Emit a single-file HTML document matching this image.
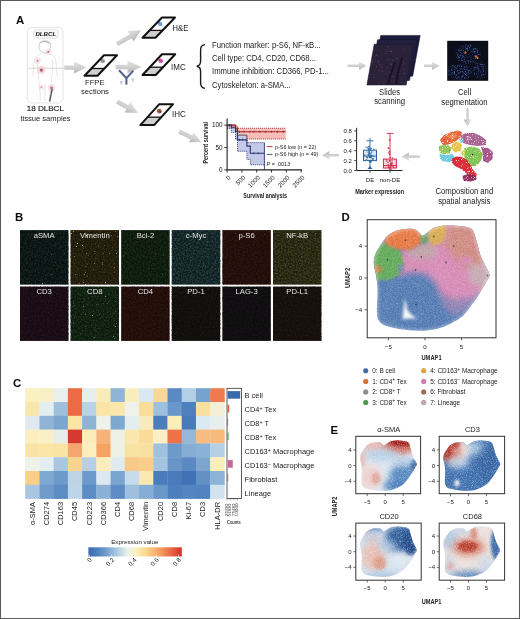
<!DOCTYPE html>
<html><head><meta charset="utf-8"><title>Figure</title>
<style>
html,body{margin:0;padding:0;background:#fff;}
body{width:520px;height:619px;overflow:hidden;}
svg{display:block;font-family:"Liberation Sans", sans-serif;will-change:transform;}
</style></head><body>
<svg width="520" height="619" viewBox="0 0 520 619">
<defs>
<linearGradient id="arrG" x1="0" y1="0" x2="0" y2="1">
 <stop offset="0" stop-color="#e2e2e2"/><stop offset="0.5" stop-color="#d0d0d0"/><stop offset="1" stop-color="#b4b4b4"/>
</linearGradient>
<linearGradient id="cbar" x1="0" y1="0" x2="1" y2="0">
 <stop offset="0" stop-color="#3a68ae"/>
 <stop offset="0.15" stop-color="#5f8fc6"/>
 <stop offset="0.3" stop-color="#a9c8e2"/>
 <stop offset="0.42" stop-color="#eaf2ee"/>
 <stop offset="0.5" stop-color="#fbf3c2"/>
 <stop offset="0.62" stop-color="#fbd58e"/>
 <stop offset="0.78" stop-color="#f39a5f"/>
 <stop offset="1" stop-color="#d7302a"/>
</linearGradient>
<filter id="dotBlur" x="-50%" y="-50%" width="200%" height="200%"><feGaussianBlur stdDeviation="0.45"/></filter><filter id="compNoise" x="0" y="0" width="1" height="1" filterUnits="objectBoundingBox" color-interpolation-filters="sRGB"><feTurbulence type="fractalNoise" baseFrequency="1.2" numOctaves="1" seed="21"/><feColorMatrix type="matrix" values="0 0 0 0 1 0 0 0 0 1 0 0 0 0 1 8 0 0 0 -4.8"/></filter><filter id="umapNoise" x="0" y="0" width="1" height="1" filterUnits="objectBoundingBox" color-interpolation-filters="sRGB"><feTurbulence type="fractalNoise" baseFrequency="1.4" numOctaves="2" seed="11"/><feColorMatrix type="matrix" values="0 0 0 0 1 0 0 0 0 1 0 0 0 0 1 1.5 0 0 0 -0.55"/></filter><filter id="umapNoiseE" x="0" y="0" width="1" height="1" filterUnits="objectBoundingBox" color-interpolation-filters="sRGB"><feTurbulence type="fractalNoise" baseFrequency="1.2" numOctaves="2" seed="5"/><feColorMatrix type="matrix" values="0 0 0 0 1 0 0 0 0 1 0 0 0 0 1 1.0 0 0 0 -0.45"/></filter><linearGradient id="abG" x1="0" y1="0" x2="1" y2="0"><stop offset="0" stop-color="#9aa6d0"/><stop offset="0.5" stop-color="#4e5680"/><stop offset="1" stop-color="#9aa6d0"/></linearGradient><clipPath id="stackClip"><polygon points="374.2,44.2 413.7,44.2 406.2,85 366.9,85"/></clipPath><filter id="segN" x="0" y="0" width="1" height="1" filterUnits="objectBoundingBox" color-interpolation-filters="sRGB"><feTurbulence type="fractalNoise" baseFrequency="0.7" numOctaves="2" seed="4"/><feColorMatrix type="matrix" values="0 0 0 0 0.25 0 0 0 0 0.38 0 0 0 0 0.72 3.2 0 0 0 -1.45"/></filter><radialGradient id="segM"><stop offset="0" stop-color="#fff"/><stop offset="0.7" stop-color="#fff"/><stop offset="1" stop-color="#000"/></radialGradient><mask id="segMask"><rect x="447.2" y="40.8" width="41" height="40" fill="#000"/><ellipse cx="468" cy="54" rx="14" ry="11" fill="url(#segM)"/><ellipse cx="460" cy="72" rx="14" ry="9" fill="url(#segM)"/><ellipse cx="480" cy="70" rx="8" ry="10" fill="url(#segM)" opacity="0.8"/></mask><filter id="tex0" x="0" y="0" width="1" height="1" filterUnits="objectBoundingBox" color-interpolation-filters="sRGB"><feTurbulence type="fractalNoise" baseFrequency="0.6" numOctaves="2" seed="3"/><feColorMatrix type="matrix" values="0 0 0 0 0.118 0 0 0 0 0.227 0 0 0 0 0.212 1.5 0 0 0 -0.55"/></filter><filter id="spk0" x="0" y="0" width="1" height="1" filterUnits="objectBoundingBox" color-interpolation-filters="sRGB"><feTurbulence type="fractalNoise" baseFrequency="0.9" numOctaves="1" seed="1"/><feColorMatrix type="matrix" values="0 0 0 0 0.502 0 0 0 0 0.816 0 0 0 0 0.753 12 0 0 0 -8.88"/></filter><filter id="tex1" x="0" y="0" width="1" height="1" filterUnits="objectBoundingBox" color-interpolation-filters="sRGB"><feTurbulence type="fractalNoise" baseFrequency="0.6" numOctaves="2" seed="10"/><feColorMatrix type="matrix" values="0 0 0 0 0.290 0 0 0 0 0.243 0 0 0 0 0.110 1.5 0 0 0 -0.55"/></filter><filter id="spk1" x="0" y="0" width="1" height="1" filterUnits="objectBoundingBox" color-interpolation-filters="sRGB"><feTurbulence type="fractalNoise" baseFrequency="0.9" numOctaves="1" seed="6"/><feColorMatrix type="matrix" values="0 0 0 0 0.941 0 0 0 0 0.816 0 0 0 0 0.376 12 0 0 0 -8.40"/></filter><filter id="tex2" x="0" y="0" width="1" height="1" filterUnits="objectBoundingBox" color-interpolation-filters="sRGB"><feTurbulence type="fractalNoise" baseFrequency="0.6" numOctaves="2" seed="17"/><feColorMatrix type="matrix" values="0 0 0 0 0.133 0 0 0 0 0.251 0 0 0 0 0.118 1.5 0 0 0 -0.55"/></filter><filter id="spk2" x="0" y="0" width="1" height="1" filterUnits="objectBoundingBox" color-interpolation-filters="sRGB"><feTurbulence type="fractalNoise" baseFrequency="0.9" numOctaves="1" seed="11"/><feColorMatrix type="matrix" values="0 0 0 0 0.314 0 0 0 0 0.565 0 0 0 0 0.290 12 0 0 0 -9.12"/></filter><filter id="tex3" x="0" y="0" width="1" height="1" filterUnits="objectBoundingBox" color-interpolation-filters="sRGB"><feTurbulence type="fractalNoise" baseFrequency="0.6" numOctaves="2" seed="24"/><feColorMatrix type="matrix" values="0 0 0 0 0.196 0 0 0 0 0.373 0 0 0 0 0.361 1.5 0 0 0 -0.55"/></filter><filter id="spk3" x="0" y="0" width="1" height="1" filterUnits="objectBoundingBox" color-interpolation-filters="sRGB"><feTurbulence type="fractalNoise" baseFrequency="0.9" numOctaves="1" seed="16"/><feColorMatrix type="matrix" values="0 0 0 0 0.353 0 0 0 0 0.659 0 0 0 0 0.659 12 0 0 0 -9.36"/></filter><filter id="tex4" x="0" y="0" width="1" height="1" filterUnits="objectBoundingBox" color-interpolation-filters="sRGB"><feTurbulence type="fractalNoise" baseFrequency="0.6" numOctaves="2" seed="31"/><feColorMatrix type="matrix" values="0 0 0 0 0.282 0 0 0 0 0.110 0 0 0 0 0.078 1.5 0 0 0 -0.55"/></filter><filter id="spk4" x="0" y="0" width="1" height="1" filterUnits="objectBoundingBox" color-interpolation-filters="sRGB"><feTurbulence type="fractalNoise" baseFrequency="0.9" numOctaves="1" seed="21"/><feColorMatrix type="matrix" values="0 0 0 0 0.596 0 0 0 0 0.220 0 0 0 0 0.157 12 0 0 0 -9.12"/></filter><filter id="tex5" x="0" y="0" width="1" height="1" filterUnits="objectBoundingBox" color-interpolation-filters="sRGB"><feTurbulence type="fractalNoise" baseFrequency="0.6" numOctaves="2" seed="38"/><feColorMatrix type="matrix" values="0 0 0 0 0.361 0 0 0 0 0.361 0 0 0 0 0.165 1.5 0 0 0 -0.55"/></filter><filter id="spk5" x="0" y="0" width="1" height="1" filterUnits="objectBoundingBox" color-interpolation-filters="sRGB"><feTurbulence type="fractalNoise" baseFrequency="0.9" numOctaves="1" seed="26"/><feColorMatrix type="matrix" values="0 0 0 0 0.627 0 0 0 0 0.627 0 0 0 0 0.282 12 0 0 0 -9.36"/></filter><filter id="tex6" x="0" y="0" width="1" height="1" filterUnits="objectBoundingBox" color-interpolation-filters="sRGB"><feTurbulence type="fractalNoise" baseFrequency="0.6" numOctaves="2" seed="45"/><feColorMatrix type="matrix" values="0 0 0 0 0.204 0 0 0 0 0.094 0 0 0 0 0.173 1.5 0 0 0 -0.55"/></filter><filter id="spk6" x="0" y="0" width="1" height="1" filterUnits="objectBoundingBox" color-interpolation-filters="sRGB"><feTurbulence type="fractalNoise" baseFrequency="0.9" numOctaves="1" seed="31"/><feColorMatrix type="matrix" values="0 0 0 0 0.478 0 0 0 0 0.227 0 0 0 0 0.439 12 0 0 0 -9.36"/></filter><filter id="tex7" x="0" y="0" width="1" height="1" filterUnits="objectBoundingBox" color-interpolation-filters="sRGB"><feTurbulence type="fractalNoise" baseFrequency="0.6" numOctaves="2" seed="52"/><feColorMatrix type="matrix" values="0 0 0 0 0.149 0 0 0 0 0.290 0 0 0 0 0.149 1.5 0 0 0 -0.55"/></filter><filter id="spk7" x="0" y="0" width="1" height="1" filterUnits="objectBoundingBox" color-interpolation-filters="sRGB"><feTurbulence type="fractalNoise" baseFrequency="0.9" numOctaves="1" seed="36"/><feColorMatrix type="matrix" values="0 0 0 0 0.376 0 0 0 0 0.690 0 0 0 0 0.376 12 0 0 0 -8.40"/></filter><filter id="tex8" x="0" y="0" width="1" height="1" filterUnits="objectBoundingBox" color-interpolation-filters="sRGB"><feTurbulence type="fractalNoise" baseFrequency="0.6" numOctaves="2" seed="59"/><feColorMatrix type="matrix" values="0 0 0 0 0.259 0 0 0 0 0.102 0 0 0 0 0.063 1.5 0 0 0 -0.55"/></filter><filter id="spk8" x="0" y="0" width="1" height="1" filterUnits="objectBoundingBox" color-interpolation-filters="sRGB"><feTurbulence type="fractalNoise" baseFrequency="0.9" numOctaves="1" seed="41"/><feColorMatrix type="matrix" values="0 0 0 0 0.478 0 0 0 0 0.188 0 0 0 0 0.125 12 0 0 0 -9.36"/></filter><filter id="tex9" x="0" y="0" width="1" height="1" filterUnits="objectBoundingBox" color-interpolation-filters="sRGB"><feTurbulence type="fractalNoise" baseFrequency="0.6" numOctaves="2" seed="66"/><feColorMatrix type="matrix" values="0 0 0 0 0.133 0 0 0 0 0.118 0 0 0 0 0.094 1.5 0 0 0 -0.55"/></filter><filter id="spk9" x="0" y="0" width="1" height="1" filterUnits="objectBoundingBox" color-interpolation-filters="sRGB"><feTurbulence type="fractalNoise" baseFrequency="0.9" numOctaves="1" seed="46"/><feColorMatrix type="matrix" values="0 0 0 0 0.251 0 0 0 0 0.227 0 0 0 0 0.180 12 0 0 0 -9.60"/></filter><filter id="tex10" x="0" y="0" width="1" height="1" filterUnits="objectBoundingBox" color-interpolation-filters="sRGB"><feTurbulence type="fractalNoise" baseFrequency="0.6" numOctaves="2" seed="73"/><feColorMatrix type="matrix" values="0 0 0 0 0.118 0 0 0 0 0.102 0 0 0 0 0.118 1.5 0 0 0 -0.55"/></filter><filter id="spk10" x="0" y="0" width="1" height="1" filterUnits="objectBoundingBox" color-interpolation-filters="sRGB"><feTurbulence type="fractalNoise" baseFrequency="0.9" numOctaves="1" seed="51"/><feColorMatrix type="matrix" values="0 0 0 0 0.235 0 0 0 0 0.204 0 0 0 0 0.235 12 0 0 0 -9.60"/></filter><filter id="tex11" x="0" y="0" width="1" height="1" filterUnits="objectBoundingBox" color-interpolation-filters="sRGB"><feTurbulence type="fractalNoise" baseFrequency="0.6" numOctaves="2" seed="80"/><feColorMatrix type="matrix" values="0 0 0 0 0.173 0 0 0 0 0.110 0 0 0 0 0.086 1.5 0 0 0 -0.55"/></filter><filter id="spk11" x="0" y="0" width="1" height="1" filterUnits="objectBoundingBox" color-interpolation-filters="sRGB"><feTurbulence type="fractalNoise" baseFrequency="0.9" numOctaves="1" seed="56"/><feColorMatrix type="matrix" values="0 0 0 0 0.298 0 0 0 0 0.180 0 0 0 0 0.133 12 0 0 0 -9.60"/></filter><clipPath id="clipD"><path d="M373.80 263.00 Q373.60 260.00 374.80 256.00 Q376.00 252.00 378.25 248.75 Q380.50 245.50 383.25 241.00 Q386.00 236.50 389.50 234.25 Q393.00 232.00 396.50 230.75 Q400.00 229.50 404.00 229.00 Q408.00 228.50 411.75 228.85 Q415.50 229.20 417.50 231.10 Q419.50 233.00 421.00 234.75 Q422.50 236.50 424.50 234.75 Q426.50 233.00 429.55 230.70 Q432.60 228.40 435.80 227.35 Q439.00 226.30 442.25 225.75 Q445.50 225.20 451.75 225.50 Q458.00 225.80 465.30 226.80 Q472.60 227.80 473.90 232.30 Q475.20 236.80 476.50 241.30 Q477.80 245.80 479.10 251.00 Q480.40 256.20 483.00 261.35 Q485.60 266.50 488.05 270.85 Q490.50 275.20 488.65 277.95 Q486.80 280.70 484.25 285.25 Q481.70 289.80 479.10 294.15 Q476.50 298.50 473.25 302.75 Q470.00 307.00 466.65 311.70 Q463.30 316.40 457.15 320.10 Q451.00 323.80 443.75 326.85 Q436.50 329.90 426.70 330.60 Q416.90 331.30 407.10 330.10 Q397.30 328.90 390.00 327.05 Q382.70 325.20 380.15 322.60 Q377.60 320.00 377.10 315.00 Q376.60 310.00 377.20 302.20 Q377.80 294.40 377.50 288.20 Q377.20 282.00 376.35 277.00 Q375.50 272.00 374.75 269.00 Q374.00 266.00 373.80 263.00 Z"/></clipPath><filter id="blurD" x="-40%" y="-40%" width="180%" height="180%"><feGaussianBlur stdDeviation="3.2"/></filter><filter id="blurD2" x="-30%" y="-30%" width="160%" height="160%"><feGaussianBlur stdDeviation="1.6"/></filter><filter id="bE" x="-50%" y="-50%" width="200%" height="200%"><feGaussianBlur stdDeviation="3"/></filter><filter id="bE2" x="-50%" y="-50%" width="200%" height="200%"><feGaussianBlur stdDeviation="1.6"/></filter><clipPath id="clipE0"><path d="M360.02 458.43 Q359.92 457.00 360.51 455.08 Q361.10 453.17 362.21 451.62 Q363.31 450.07 364.67 447.91 Q366.02 445.76 367.74 444.69 Q369.46 443.61 371.18 443.02 Q372.90 442.42 374.87 442.18 Q376.84 441.94 378.68 442.11 Q380.53 442.27 381.51 443.18 Q382.50 444.09 383.23 444.93 Q383.97 445.76 384.95 444.93 Q385.94 444.09 387.44 442.99 Q388.94 441.89 390.51 441.39 Q392.09 440.89 393.68 440.63 Q395.28 440.36 398.36 440.51 Q401.43 440.65 405.02 441.13 Q408.61 441.61 409.25 443.76 Q409.89 445.91 410.53 448.06 Q411.17 450.21 411.81 452.69 Q412.45 455.18 413.72 457.64 Q415.00 460.10 416.21 462.18 Q417.41 464.26 416.50 465.58 Q415.59 466.89 414.34 469.07 Q413.09 471.24 411.81 473.32 Q410.53 475.40 408.93 477.43 Q407.33 479.46 405.68 481.71 Q404.04 483.95 401.01 485.72 Q397.99 487.49 394.42 488.95 Q390.86 490.41 386.04 490.74 Q381.22 491.08 376.40 490.50 Q371.58 489.93 367.99 489.05 Q364.40 488.16 363.14 486.92 Q361.89 485.68 361.64 483.29 Q361.40 480.90 361.69 477.17 Q361.99 473.44 361.84 470.48 Q361.69 467.51 361.27 465.12 Q360.86 462.73 360.49 461.30 Q360.12 459.86 360.02 458.43 Z"/></clipPath><clipPath id="clipE1"><path d="M443.32 458.43 Q443.22 457.00 443.81 455.08 Q444.40 453.17 445.51 451.62 Q446.61 450.07 447.97 447.91 Q449.32 445.76 451.04 444.69 Q452.76 443.61 454.48 443.02 Q456.20 442.42 458.17 442.18 Q460.14 441.94 461.98 442.11 Q463.83 442.27 464.81 443.18 Q465.80 444.09 466.53 444.93 Q467.27 445.76 468.25 444.93 Q469.24 444.09 470.74 442.99 Q472.24 441.89 473.81 441.39 Q475.39 440.89 476.98 440.63 Q478.58 440.36 481.66 440.51 Q484.73 440.65 488.32 441.13 Q491.91 441.61 492.55 443.76 Q493.19 445.91 493.83 448.06 Q494.47 450.21 495.11 452.69 Q495.75 455.18 497.02 457.64 Q498.30 460.10 499.51 462.18 Q500.71 464.26 499.80 465.58 Q498.89 466.89 497.64 469.07 Q496.39 471.24 495.11 473.32 Q493.83 475.40 492.23 477.43 Q490.63 479.46 488.98 481.71 Q487.34 483.95 484.31 485.72 Q481.29 487.49 477.72 488.95 Q474.16 490.41 469.34 490.74 Q464.52 491.08 459.70 490.50 Q454.88 489.93 451.29 489.05 Q447.70 488.16 446.44 486.92 Q445.19 485.68 444.94 483.29 Q444.70 480.90 444.99 477.17 Q445.29 473.44 445.14 470.48 Q444.99 467.51 444.57 465.12 Q444.16 462.73 443.79 461.30 Q443.42 459.86 443.32 458.43 Z"/></clipPath><clipPath id="clipE2"><path d="M360.02 544.53 Q359.92 543.10 360.51 541.18 Q361.10 539.27 362.21 537.72 Q363.31 536.17 364.67 534.01 Q366.02 531.86 367.74 530.79 Q369.46 529.71 371.18 529.12 Q372.90 528.52 374.87 528.28 Q376.84 528.04 378.68 528.21 Q380.53 528.37 381.51 529.28 Q382.50 530.19 383.23 531.03 Q383.97 531.86 384.95 531.03 Q385.94 530.19 387.44 529.09 Q388.94 527.99 390.51 527.49 Q392.09 526.99 393.68 526.73 Q395.28 526.46 398.36 526.61 Q401.43 526.75 405.02 527.23 Q408.61 527.71 409.25 529.86 Q409.89 532.01 410.53 534.16 Q411.17 536.31 411.81 538.79 Q412.45 541.28 413.72 543.74 Q415.00 546.20 416.21 548.28 Q417.41 550.36 416.50 551.68 Q415.59 552.99 414.34 555.17 Q413.09 557.34 411.81 559.42 Q410.53 561.50 408.93 563.53 Q407.33 565.56 405.68 567.81 Q404.04 570.05 401.01 571.82 Q397.99 573.59 394.42 575.05 Q390.86 576.51 386.04 576.84 Q381.22 577.18 376.40 576.60 Q371.58 576.03 367.99 575.15 Q364.40 574.26 363.14 573.02 Q361.89 571.78 361.64 569.39 Q361.40 567.00 361.69 563.27 Q361.99 559.54 361.84 556.58 Q361.69 553.61 361.27 551.22 Q360.86 548.83 360.49 547.40 Q360.12 545.96 360.02 544.53 Z"/></clipPath><clipPath id="clipE3"><path d="M443.32 544.53 Q443.22 543.10 443.81 541.18 Q444.40 539.27 445.51 537.72 Q446.61 536.17 447.97 534.01 Q449.32 531.86 451.04 530.79 Q452.76 529.71 454.48 529.12 Q456.20 528.52 458.17 528.28 Q460.14 528.04 461.98 528.21 Q463.83 528.37 464.81 529.28 Q465.80 530.19 466.53 531.03 Q467.27 531.86 468.25 531.03 Q469.24 530.19 470.74 529.09 Q472.24 527.99 473.81 527.49 Q475.39 526.99 476.98 526.73 Q478.58 526.46 481.66 526.61 Q484.73 526.75 488.32 527.23 Q491.91 527.71 492.55 529.86 Q493.19 532.01 493.83 534.16 Q494.47 536.31 495.11 538.79 Q495.75 541.28 497.02 543.74 Q498.30 546.20 499.51 548.28 Q500.71 550.36 499.80 551.68 Q498.89 552.99 497.64 555.17 Q496.39 557.34 495.11 559.42 Q493.83 561.50 492.23 563.53 Q490.63 565.56 488.98 567.81 Q487.34 570.05 484.31 571.82 Q481.29 573.59 477.72 575.05 Q474.16 576.51 469.34 576.84 Q464.52 577.18 459.70 576.60 Q454.88 576.03 451.29 575.15 Q447.70 574.26 446.44 573.02 Q445.19 571.78 444.94 569.39 Q444.70 567.00 444.99 563.27 Q445.29 559.54 445.14 556.58 Q444.99 553.61 444.57 551.22 Q444.16 548.83 443.79 547.40 Q443.42 545.96 443.32 544.53 Z"/></clipPath></defs>
<rect x="0" y="0" width="520" height="619" fill="#fff"/>
<text x="15.9" y="23.7" font-size="11.4" fill="#0a0a0a" text-anchor="start" font-weight="bold" font-style="normal" >A</text>
<rect x="27.2" y="27.4" width="35.8" height="75.6" rx="4.5" fill="#fefefe" stroke="#dcdcdc" stroke-width="0.8"/>
<rect x="33.2" y="29.4" width="25.2" height="9" rx="3.5" fill="#f6f6f6" stroke="#d8d8d8" stroke-width="0.6"/>
<text x="45.8" y="36.2" font-size="6.1" fill="#1a1a1a" text-anchor="middle" font-weight="bold" font-style="italic" >DLBCL</text>
<g fill="none" stroke="#dadada" stroke-width="0.6"><path d="M39 46.5 Q39 40.8 44.5 40.8 Q50.5 40.8 50.5 46.5 Q50.5 52.5 45 53 Q39 52.5 39 46.5 Z" stroke="#c4c4c4" stroke-width="0.8"/><path d="M41 53.5 L37 56 Q34 57.5 33.8 63 L33 76 M49 53.5 L53 56 Q56 57.5 56.2 63 L57 76"/><path d="M37.5 60 L37.8 73 Q38.5 80 39.5 86 L40.5 101 M52.5 60 L52.2 73 Q51.5 80 50.5 86 L49.5 101"/><path d="M45 84 L45 101"/></g>
<path d="M40 43 Q44.5 39.5 50 43.5" stroke="#bdbdbd" stroke-width="1.3" fill="none"/>
<line x1="27.3" y1="68.2" x2="64" y2="68.2" stroke="#c8c8c8" stroke-width="0.7"/>
<circle cx="48.3" cy="51.9" r="3.1" fill="#efc4c6" opacity="0.44000000000000006"/>
<circle cx="48.3" cy="51.9" r="1.0499999999999998" fill="#9a3a48" opacity="0.55"/>
<circle cx="37.6" cy="60.7" r="3.1" fill="#efc4c6" opacity="0.4"/>
<circle cx="37.6" cy="60.7" r="1.0499999999999998" fill="#9a3a48" opacity="0.5"/>
<circle cx="41.4" cy="70.1" r="4.0" fill="#efc4c6" opacity="0.6000000000000001"/>
<circle cx="41.4" cy="70.1" r="1.68" fill="#9a3a48" opacity="0.75"/>
<circle cx="41.4" cy="87.2" r="2.9000000000000004" fill="#efc4c6" opacity="0.32000000000000006"/>
<circle cx="41.4" cy="87.2" r="0.9099999999999999" fill="#9a3a48" opacity="0.4"/>
<circle cx="51.5" cy="87.8" r="3.6" fill="#efc4c6" opacity="0.48"/>
<circle cx="51.5" cy="87.8" r="1.4" fill="#9a3a48" opacity="0.6"/>
<line x1="52.2" y1="88.6" x2="49.6" y2="101.6" stroke="#5a5a5a" stroke-width="1.5"/>
<text x="45.3" y="110.9" font-size="8.1" fill="#1a1a1a" text-anchor="middle" font-weight="normal" font-style="normal" stroke="#1a1a1a" stroke-width="0.15">18 DLBCL</text>
<text x="45.5" y="120.7" font-size="7.6" fill="#222" text-anchor="middle" font-weight="normal" font-style="normal" >tissue samples</text>
<polygon points="0.00,-2.20 9.90,-2.20 9.90,-6.00 22.40,0.00 9.90,6.00 9.90,2.20 0.00,2.20" fill="url(#arrG)" transform="translate(64.2,67.6) rotate(0.00)"/>
<polygon points="104,55.2 117,55.2 104.34878048780487,68.5 91.34878048780487,68.5" fill="#fff"/>
<polygon points="91.34878048780487,68.5 104.34878048780487,68.5 97.5,75.7 84.5,75.7" fill="#cfcfcf"/>
<g filter="url(#dotBlur)"><circle cx="102.5" cy="60.8" r="2.4" fill="#888" opacity="0.75"/><circle cx="101.7" cy="60.199999999999996" r="1.1" fill="#888"/><circle cx="103.4" cy="61.5" r="1.1" fill="#888"/></g>
<line x1="91.34878048780487" y1="68.5" x2="104.34878048780487" y2="68.5" stroke="#111" stroke-width="1.3"/>
<polygon points="104,55.2 117,55.2 97.5,75.7 84.5,75.7" fill="none" stroke="#111" stroke-width="2.0" stroke-linejoin="round"/>
<text x="94.8" y="84.7" font-size="7.6" fill="#222" text-anchor="middle" font-weight="normal" font-style="normal" >FFPE</text>
<text x="95.0" y="93.7" font-size="7.6" fill="#222" text-anchor="middle" font-weight="normal" font-style="normal" >sections</text>
<polygon points="0.00,-2.20 15.78,-2.20 15.78,-6.00 27.78,0.00 15.78,6.00 15.78,2.20 0.00,2.20" fill="url(#arrG)" transform="translate(117,44.2) rotate(-30.26)"/>
<polygon points="0.00,-2.20 12.00,-2.20 12.00,-6.25 26.00,0.00 12.00,6.25 12.00,2.20 0.00,2.20" fill="url(#arrG)" transform="translate(115.5,67.0) rotate(0.00)"/>
<polygon points="0.00,-2.20 11.89,-2.20 11.89,-6.00 23.89,0.00 11.89,6.00 11.89,2.20 0.00,2.20" fill="url(#arrG)" transform="translate(117,101.6) rotate(28.50)"/>
<g stroke="#5a6290" stroke-width="2.1" fill="none" stroke-linecap="butt" stroke-linejoin="miter"><path d="M119 70.3 L126.4 78.2 L133.4 70.6"/><path d="M126.4 77.5 L126.4 84.6"/></g>
<g stroke="#8a90c0" stroke-width="0.7" fill="none"><path d="M120 81 L121.2 82.8 L122.4 81 M121.2 82.8 L121.2 84.3"/><path d="M131.6 78.6 L132.8 80.4 L134 78.6 M132.8 80.4 L132.8 81.9"/></g>
<polygon points="162,17.5 175,17.5 162.5470297029703,30.4 149.5470297029703,30.4" fill="#fff"/>
<polygon points="149.5470297029703,30.4 162.5470297029703,30.4 155.5,37.7 142.5,37.7" fill="#cfcfcf"/>
<g filter="url(#dotBlur)"><circle cx="160" cy="23.8" r="2.4" fill="#5b8fd0" opacity="0.75"/><circle cx="159.2" cy="23.2" r="1.1" fill="#5b8fd0"/><circle cx="160.9" cy="24.5" r="1.1" fill="#5b8fd0"/></g>
<line x1="149.5470297029703" y1="30.4" x2="162.5470297029703" y2="30.4" stroke="#111" stroke-width="1.3"/>
<polygon points="162,17.5 175,17.5 155.5,37.7 142.5,37.7" fill="none" stroke="#111" stroke-width="2.0" stroke-linejoin="round"/>
<text x="172.6" y="30.8" font-size="8.2" fill="#222" text-anchor="start" textLength="15.63" lengthAdjust="spacingAndGlyphs">H&amp;E</text>
<polygon points="162,54.2 175.2,54.2 163.0125,67.2 149.8125,67.2" fill="#fff"/>
<polygon points="149.8125,67.2 163.0125,67.2 155.7,75.0 142.5,75.0" fill="#cfcfcf"/>
<g filter="url(#dotBlur)"><circle cx="160.6" cy="60.8" r="2.4" fill="#c040a0" opacity="0.75"/><circle cx="159.79999999999998" cy="60.199999999999996" r="1.1" fill="#c040a0"/><circle cx="161.5" cy="61.5" r="1.1" fill="#c040a0"/></g>
<line x1="149.8125" y1="67.2" x2="163.0125" y2="67.2" stroke="#111" stroke-width="1.3"/>
<polygon points="162,54.2 175.2,54.2 155.7,75.0 142.5,75.0" fill="none" stroke="#111" stroke-width="2.0" stroke-linejoin="round"/>
<text x="171.0" y="69.9" font-size="8.4" fill="#222" text-anchor="start" textLength="14.66" lengthAdjust="spacingAndGlyphs">IMC</text>
<polygon points="159.3,104.2 173.10000000000002,104.2 161.2818181818182,117.2 147.4818181818182,117.2" fill="#fefbfa"/>
<polygon points="147.4818181818182,117.2 161.2818181818182,117.2 154.10000000000002,125.1 140.3,125.1" fill="#cfcfcf"/>
<g filter="url(#dotBlur)"><circle cx="159.3" cy="111.2" r="2.4" fill="#8a3a2a" opacity="0.75"/><circle cx="158.5" cy="110.60000000000001" r="1.1" fill="#8a3a2a"/><circle cx="160.20000000000002" cy="111.9" r="1.1" fill="#8a3a2a"/></g>
<line x1="147.4818181818182" y1="117.2" x2="161.2818181818182" y2="117.2" stroke="#111" stroke-width="1.3"/>
<polygon points="159.3,104.2 173.10000000000002,104.2 154.10000000000002,125.1 140.3,125.1" fill="none" stroke="#111" stroke-width="2.0" stroke-linejoin="round"/>
<text x="172.0" y="117.1" font-size="8.4" fill="#222" text-anchor="start" textLength="13.78" lengthAdjust="spacingAndGlyphs">IHC</text>
<path d="M205 44.6 Q200.6 45 200.6 50 L200.6 61 Q200.6 65.6 196.8 66.2 Q200.6 66.8 200.6 71.4 L200.6 83 Q200.6 88 205 88.4" fill="none" stroke="#1a1a1a" stroke-width="1.4"/>
<text x="212" y="47.7" font-size="8.2" fill="#222" text-anchor="start" textLength="108.68" lengthAdjust="spacingAndGlyphs">Function marker: p-S6, NF-κB...</text>
<text x="212" y="61.0" font-size="8.2" fill="#222" text-anchor="start" textLength="103.98" lengthAdjust="spacingAndGlyphs">Cell type: CD4, CD20, CD68...</text>
<text x="212" y="74.30000000000001" font-size="8.2" fill="#222" text-anchor="start" textLength="116.83" lengthAdjust="spacingAndGlyphs">Immune inhibition: CD366, PD-1...</text>
<text x="212" y="87.60000000000001" font-size="8.2" fill="#222" text-anchor="start" textLength="78.74" lengthAdjust="spacingAndGlyphs">Cytoskeleton: a-SMA...</text>
<polygon points="0.00,-1.30 11.60,-1.30 11.60,-4.20 19.00,0.00 11.60,4.20 11.60,1.30 0.00,1.30" fill="url(#arrG)" transform="translate(347.5,65.8) rotate(0.00)"/>
<polygon points="0.00,-1.30 8.10,-1.30 8.10,-4.20 15.50,0.00 8.10,4.20 8.10,1.30 0.00,1.30" fill="url(#arrG)" transform="translate(424,65.8) rotate(0.00)"/>
<polygon points="380.7,35.400000000000006 420.2,35.400000000000006 412.7,76.2 373.4,76.2" fill="#1c1a3c" stroke="#14122a" stroke-width="0.5"/>
<polygon points="377.5,39.7 417.0,39.7 409.5,80.5 370.2,80.5" fill="#22203f" stroke="#14122a" stroke-width="0.5"/>
<polygon points="374.2,44.2 413.7,44.2 406.2,85.0 366.9,85.0" fill="#2a2238" stroke="#14122a" stroke-width="0.5"/>
<g opacity="0.85" clip-path="url(#stackClip)">
<circle cx="380.3" cy="51.7" r="0.38" fill="#7a3a5a"/>
<circle cx="388.4" cy="59.9" r="0.71" fill="#7a3a5a"/>
<circle cx="376.2" cy="49.3" r="0.38" fill="#4a4a8a"/>
<circle cx="371.4" cy="62.1" r="0.73" fill="#7a3a5a"/>
<circle cx="392.0" cy="68.2" r="0.58" fill="#7a3a5a"/>
<circle cx="383.1" cy="83.1" r="0.57" fill="#7a3a5a"/>
<circle cx="373.1" cy="61.9" r="0.58" fill="#7a3a5a"/>
<circle cx="389.3" cy="71.9" r="0.58" fill="#7a3a5a"/>
<circle cx="392.3" cy="60.2" r="0.58" fill="#7a3a5a"/>
<circle cx="391.5" cy="64.9" r="0.66" fill="#4a4a8a"/>
<circle cx="385.7" cy="81.1" r="0.47" fill="#8a4a40"/>
<circle cx="398.2" cy="72.6" r="0.38" fill="#5a3a70"/>
<circle cx="379.4" cy="64.8" r="0.64" fill="#8a4a40"/>
<circle cx="378.9" cy="83.2" r="0.55" fill="#7a3a5a"/>
<circle cx="374.3" cy="59.0" r="0.52" fill="#4a4a8a"/>
<circle cx="404.6" cy="48.9" r="0.49" fill="#8a4a40"/>
<circle cx="381.3" cy="64.9" r="0.38" fill="#4a4a8a"/>
<circle cx="371.6" cy="56.3" r="0.37" fill="#7a3a5a"/>
<circle cx="394.7" cy="70.6" r="0.46" fill="#4a4a8a"/>
<circle cx="382.7" cy="71.4" r="0.73" fill="#7a3a5a"/>
<circle cx="381.5" cy="69.2" r="0.37" fill="#4a4a8a"/>
<circle cx="397.2" cy="50.9" r="0.51" fill="#5a3a70"/>
<circle cx="402.8" cy="64.9" r="0.53" fill="#5a3a70"/>
<circle cx="388.9" cy="79.6" r="0.70" fill="#4a4a8a"/>
<circle cx="378.6" cy="61.8" r="0.62" fill="#8a4a40"/>
<circle cx="382.5" cy="54.8" r="0.42" fill="#7a3a5a"/>
<circle cx="376.8" cy="54.9" r="0.68" fill="#4a4a8a"/>
<circle cx="374.9" cy="56.7" r="0.52" fill="#5a3a70"/>
<circle cx="382.0" cy="67.5" r="0.63" fill="#5a3a70"/>
<circle cx="387.6" cy="69.5" r="0.53" fill="#7a3a5a"/>
<circle cx="401.1" cy="82.2" r="0.51" fill="#4a4a8a"/>
<circle cx="383.0" cy="64.3" r="0.37" fill="#4a4a8a"/>
<circle cx="370.6" cy="53.9" r="0.39" fill="#5a3a70"/>
<circle cx="390.8" cy="49.9" r="0.56" fill="#5a3a70"/>
<circle cx="404.1" cy="69.3" r="0.70" fill="#7a3a5a"/>
<circle cx="391.3" cy="51.6" r="0.73" fill="#8a4a40"/>
<circle cx="390.9" cy="64.0" r="0.69" fill="#7a3a5a"/>
<circle cx="405.7" cy="63.7" r="0.47" fill="#4a4a8a"/>
<circle cx="373.5" cy="74.5" r="0.54" fill="#8a4a40"/>
<circle cx="394.3" cy="65.6" r="0.73" fill="#5a3a70"/>
<circle cx="388.1" cy="51.6" r="0.65" fill="#7a3a5a"/>
<circle cx="379.3" cy="70.4" r="0.63" fill="#7a3a5a"/>
<circle cx="377.9" cy="59.9" r="0.49" fill="#5a3a70"/>
<circle cx="376.5" cy="66.6" r="0.60" fill="#8a4a40"/>
<circle cx="391.3" cy="76.0" r="0.67" fill="#5a3a70"/>
<circle cx="399.1" cy="74.1" r="0.43" fill="#5a3a70"/>
<circle cx="386.7" cy="73.8" r="0.67" fill="#7a3a5a"/>
<circle cx="385.9" cy="53.4" r="0.53" fill="#8a4a40"/>
<circle cx="403.6" cy="83.5" r="0.38" fill="#8a4a40"/>
<circle cx="371.9" cy="63.9" r="0.43" fill="#8a4a40"/>
<circle cx="391.7" cy="80.2" r="0.54" fill="#7a3a5a"/>
<circle cx="392.8" cy="76.4" r="0.68" fill="#7a3a5a"/>
<circle cx="372.6" cy="60.8" r="0.54" fill="#5a3a70"/>
<circle cx="374.8" cy="76.0" r="0.38" fill="#8a4a40"/>
<circle cx="404.0" cy="73.4" r="0.51" fill="#4a4a8a"/>
<circle cx="404.0" cy="73.5" r="0.75" fill="#5a3a70"/>
<circle cx="369.0" cy="68.5" r="0.67" fill="#4a4a8a"/>
<circle cx="373.6" cy="77.4" r="0.61" fill="#4a4a8a"/>
<circle cx="381.3" cy="66.8" r="0.36" fill="#5a3a70"/>
<circle cx="398.4" cy="73.6" r="0.56" fill="#7a3a5a"/>
<circle cx="403.5" cy="62.5" r="0.68" fill="#5a3a70"/>
<circle cx="376.0" cy="55.6" r="0.55" fill="#8a4a40"/>
<circle cx="397.0" cy="58.4" r="0.68" fill="#4a4a8a"/>
<circle cx="370.3" cy="74.1" r="0.61" fill="#4a4a8a"/>
<circle cx="399.0" cy="65.6" r="0.56" fill="#5a3a70"/>
<circle cx="387.9" cy="46.7" r="0.66" fill="#4a4a8a"/>
<circle cx="391.1" cy="75.5" r="0.42" fill="#5a3a70"/>
<circle cx="386.0" cy="73.6" r="0.48" fill="#7a3a5a"/>
<circle cx="387.7" cy="67.1" r="0.70" fill="#7a3a5a"/>
<circle cx="370.2" cy="53.3" r="0.66" fill="#7a3a5a"/>
</g>
<path d="M395 62 Q392 70 388 84 M402 58 Q398 70 396 84" stroke="#141020" stroke-width="2.2" fill="none" opacity="0.8"/>
<text x="389.6" y="95.2" font-size="8.3" fill="#222" text-anchor="middle" textLength="20.97" lengthAdjust="spacingAndGlyphs">Slides</text>
<text x="389.6" y="104.3" font-size="8.3" fill="#222" text-anchor="middle" textLength="30.82" lengthAdjust="spacingAndGlyphs">scanning</text>
<rect x="447.2" y="40.8" width="41" height="40" fill="#0b0d18"/>
<rect x="447.2" y="40.8" width="41" height="40" fill="#000" filter="url(#segN)" mask="url(#segMask)"/>
<ellipse cx="470" cy="56" rx="6" ry="5" fill="#0b0d18" opacity="0.55"/>
<circle cx="465.4" cy="52.7" r="1.1" fill="#d06a2a"/><circle cx="476" cy="56.5" r="1.3" fill="#d06a2a"/><circle cx="477.5" cy="58.2" r="0.9" fill="#e08a3a"/>
<circle cx="453" cy="65.8" r="0.6" fill="#40a060"/>
<text x="464.6" y="95.4" font-size="8.4" fill="#222" text-anchor="middle" textLength="13.26" lengthAdjust="spacingAndGlyphs">Cell</text>
<text x="464.4" y="104.8" font-size="8.3" fill="#222" text-anchor="middle" textLength="46.23" lengthAdjust="spacingAndGlyphs">segmentation</text>
<polygon points="0.00,-1.20 11.50,-1.20 11.50,-4.00 18.50,0.00 11.50,4.00 11.50,1.20 0.00,1.20" fill="url(#arrG)" transform="translate(467.6,108) rotate(90.00)"/>
<g>
<path d="M440 140 L444 135 L451 132 L458 130.5 L462 132 L461 137 L456 141 L450 144 L443 145.5 Z" fill="#e85a2c" opacity="0.92"/>
<path d="M447 136 L455 133 L458 136 L452 140 Z" fill="#f28a50" opacity="0.92"/>
<path d="M439 146 L447 144.5 L451 147 L450 153 L444 154.5 L439 152 Z" fill="#86c440" opacity="0.92"/>
<path d="M439.5 154 L446 155 L453 154 L455 159 L450 162 L443 161.5 L440 158.5 Z" fill="#66c4e0" opacity="0.92"/>
<path d="M452 143 L458 141.5 L462 145 L461 151 L455 152.5 L451 149 Z" fill="#e8c040" opacity="0.92"/>
<path d="M460 136 L466 133 L474 133 L481 136 L486 140 L486 145 L478 146 L470 145 L463 143 Z" fill="#a05a88" opacity="0.92"/>
<path d="M466 137 L470 135.5 L472 139 L468 141 Z" fill="#e080b0" opacity="0.92"/>
<path d="M459 139 L463 138 L464 142 L460 143 Z" fill="#70c8d0" opacity="0.92"/>
<path d="M464.5 148 L472 146.5 L479 148.5 L483 154 L481 161 L476 166 L469 166.5 L465 161 L464 154 Z" fill="#78c046" opacity="0.92"/>
<path d="M481 147 L488 148 L493 152 L492.5 159 L488 163 L483 161 L483 154 Z" fill="#a04884" opacity="0.92"/>
<path d="M451.5 159 L456 156.5 L462 157 L467 160 L471 166 L474 171 L477 174 L476 178 L471 178 L466 173 L461 169 L455 166 L452 163 Z" fill="#d81e2a" opacity="0.92"/>
<path d="M462 176 L468 174 L475 175.5 L477 179.5 L471 181.5 L464 181 Z" fill="#8a2452" opacity="0.92"/>
<path d="M461 151 L465 150 L465 155 L462 156 Z" fill="#d8d04a" opacity="0.92"/>
<rect x="436" y="128" width="60" height="56" fill="#000" filter="url(#compNoise)"/>
<circle cx="472.5" cy="154.5" r="0.8" fill="#222"/><circle cx="450" cy="150" r="0.6" fill="#333"/>
</g>
<text x="464.3" y="194.2" font-size="8.3" fill="#222" text-anchor="middle" textLength="57.78" lengthAdjust="spacingAndGlyphs">Composition and</text>
<text x="464.3" y="203.5" font-size="8.3" fill="#222" text-anchor="middle" textLength="52.21" lengthAdjust="spacingAndGlyphs">spatial analysis</text>
<polygon points="0.00,-1.30 11.10,-1.30 11.10,-4.20 18.50,0.00 11.10,4.20 11.10,1.30 0.00,1.30" fill="url(#arrG)" transform="translate(420,156.7) rotate(180.00)"/>
<polygon points="0.00,-1.30 9.60,-1.30 9.60,-4.20 17.00,0.00 9.60,4.20 9.60,1.30 0.00,1.30" fill="url(#arrG)" transform="translate(339,155.3) rotate(180.00)"/>
<polygon points="0.00,-2.20 13.47,-2.20 13.47,-5.50 24.47,0.00 13.47,5.50 13.47,2.20 0.00,2.20" fill="url(#arrG)" transform="translate(179.2,131.5) rotate(25.41)"/>
<polygon points="227.10,125.82 235.51,125.82 235.51,129.13 237.49,129.13 237.49,135.18 246.90,135.18 246.90,142.57 264.40,142.57 264.40,164.79 250.31,164.79 250.31,159.42 246.90,159.42 246.90,151.31 237.49,151.31 237.49,139.21 235.51,139.21 235.51,132.49 231.39,132.49 231.39,128.50 227.10,128.50" fill="#bcc3e4" opacity="0.9"/>
<polygon points="227.10,125.10 235.51,125.10 235.51,126.00 237.49,126.00 237.49,128.24 285.71,128.24 285.71,138.99 246.90,138.99 246.90,135.18 237.49,135.18 237.49,131.37 235.51,131.37 235.51,126.89 227.10,126.89" fill="#f7b9b4" opacity="0.95"/>
<polyline points="227.10,125.10 235.51,125.10 235.51,126.00 237.49,126.00 237.49,128.24 285.71,128.24" fill="none" stroke="#a83838" stroke-width="0.9" stroke-dasharray="1.1,0.9"/>
<polyline points="227.10,126.89 235.51,126.89 235.51,131.37 237.49,131.37 237.49,135.18 246.90,135.18 246.90,138.99 285.71,138.99" fill="none" stroke="#a83838" stroke-width="0.9" stroke-dasharray="1.1,0.9"/>
<polyline points="227.10,125.82 235.51,125.82 235.51,129.13 237.49,129.13 237.49,135.18 246.90,135.18 246.90,142.57 264.40,142.57" fill="none" stroke="#38407a" stroke-width="0.9" stroke-dasharray="1.1,0.9"/>
<polyline points="227.10,128.50 231.39,128.50 231.39,132.49 235.51,132.49 235.51,139.21 237.49,139.21 237.49,151.31 246.90,151.31 246.90,159.42 250.31,159.42 250.31,164.79 264.40,164.79" fill="none" stroke="#38407a" stroke-width="0.9" stroke-dasharray="1.1,0.9"/>
<polyline points="227.10,125.10 235.51,125.10 235.51,128.24 237.49,128.24 237.49,131.82 285.71,131.82" fill="none" stroke="#9a2020" stroke-width="1.1"/>
<polyline points="227.10,125.10 231.39,125.10 231.39,127.79 235.51,127.79 235.51,131.37 237.49,131.37 237.49,139.88 246.90,139.88 246.90,146.16 250.31,146.16 250.31,153.32 264.40,153.32" fill="none" stroke="#2a3670" stroke-width="1.1"/>
<line x1="264.40" y1="142.57" x2="264.40" y2="169.90" stroke="#2a3670" stroke-width="0.9"/>
<line x1="239.53" y1="130.72" x2="239.53" y2="132.92" stroke="#9a2020" stroke-width="0.7"/>
<line x1="243.68" y1="130.72" x2="243.68" y2="132.92" stroke="#9a2020" stroke-width="0.7"/>
<line x1="249.60" y1="130.72" x2="249.60" y2="132.92" stroke="#9a2020" stroke-width="0.7"/>
<line x1="253.74" y1="130.72" x2="253.74" y2="132.92" stroke="#9a2020" stroke-width="0.7"/>
<line x1="259.66" y1="130.72" x2="259.66" y2="132.92" stroke="#9a2020" stroke-width="0.7"/>
<line x1="265.58" y1="130.72" x2="265.58" y2="132.92" stroke="#9a2020" stroke-width="0.7"/>
<line x1="271.50" y1="130.72" x2="271.50" y2="132.92" stroke="#9a2020" stroke-width="0.7"/>
<line x1="277.42" y1="130.72" x2="277.42" y2="132.92" stroke="#9a2020" stroke-width="0.7"/>
<line x1="283.34" y1="130.72" x2="283.34" y2="132.92" stroke="#9a2020" stroke-width="0.7"/>
<line x1="239.53" y1="138.78" x2="239.53" y2="140.98" stroke="#2a3670" stroke-width="0.7"/>
<line x1="242.49" y1="138.78" x2="242.49" y2="140.98" stroke="#2a3670" stroke-width="0.7"/>
<line x1="253.74" y1="152.22" x2="253.74" y2="154.42" stroke="#2a3670" stroke-width="0.7"/>
<line x1="258.18" y1="152.22" x2="258.18" y2="154.42" stroke="#2a3670" stroke-width="0.7"/>
<path d="M227.1 118.5 L227.1 169.9 L302 169.9" fill="none" stroke="#222" stroke-width="1.1"/>
<line x1="224.3" y1="169.90" x2="227.1" y2="169.90" stroke="#222" stroke-width="0.9"/>
<text x="222.6" y="172.1" font-size="6.4" fill="#111" text-anchor="end" font-weight="normal" font-style="normal" >0</text>
<line x1="224.3" y1="147.50" x2="227.1" y2="147.50" stroke="#222" stroke-width="0.9"/>
<text x="222.6" y="149.7" font-size="6.4" fill="#111" text-anchor="end" font-weight="normal" font-style="normal" >50</text>
<line x1="224.3" y1="125.10" x2="227.1" y2="125.10" stroke="#222" stroke-width="0.9"/>
<text x="222.6" y="127.3" font-size="6.4" fill="#111" text-anchor="end" font-weight="normal" font-style="normal" >100</text>
<line x1="227.10" y1="169.9" x2="227.10" y2="172.6" stroke="#222" stroke-width="0.9"/>
<text transform="translate(230.90,178.0) rotate(-45)" font-size="6.3" fill="#111" text-anchor="end">0</text>
<line x1="241.90" y1="169.9" x2="241.90" y2="172.6" stroke="#222" stroke-width="0.9"/>
<text transform="translate(245.70,178.0) rotate(-45)" font-size="6.3" fill="#111" text-anchor="end">500</text>
<line x1="256.70" y1="169.9" x2="256.70" y2="172.6" stroke="#222" stroke-width="0.9"/>
<text transform="translate(260.50,178.0) rotate(-45)" font-size="6.3" fill="#111" text-anchor="end">1000</text>
<line x1="271.50" y1="169.9" x2="271.50" y2="172.6" stroke="#222" stroke-width="0.9"/>
<text transform="translate(275.30,178.0) rotate(-45)" font-size="6.3" fill="#111" text-anchor="end">1500</text>
<line x1="286.30" y1="169.9" x2="286.30" y2="172.6" stroke="#222" stroke-width="0.9"/>
<text transform="translate(290.10,178.0) rotate(-45)" font-size="6.3" fill="#111" text-anchor="end">2000</text>
<line x1="301.10" y1="169.9" x2="301.10" y2="172.6" stroke="#222" stroke-width="0.9"/>
<text transform="translate(304.90,178.0) rotate(-45)" font-size="6.3" fill="#111" text-anchor="end">2500</text>
<text transform="translate(207.8,142.8) rotate(-90) scale(0.74,1)" font-size="7.3" font-weight="bold" fill="#1a1a1a" text-anchor="middle">Percent survival</text>
<text transform="translate(265.2,198.4) scale(0.74,1)" font-size="7.3" font-weight="bold" fill="#1a1a1a" text-anchor="middle">Survival analysis</text>
<line x1="267" y1="146.6" x2="272.5" y2="146.6" stroke="#b02828" stroke-width="0.9"/>
<line x1="267" y1="154.4" x2="272.5" y2="154.4" stroke="#2f3f7f" stroke-width="0.9"/>
<text x="275" y="148.6" font-size="5.4" fill="#222" text-anchor="start" font-weight="normal" font-style="normal" >p-S6 low (n = 22)</text>
<text x="275" y="156.4" font-size="5.4" fill="#222" text-anchor="start" font-weight="normal" font-style="normal" >p-S6 high (n = 49)</text>
<text x="266.5" y="166.0" font-size="5.5" fill="#222" text-anchor="start" font-weight="normal" font-style="normal" ><tspan font-style="italic">P</tspan> = .0013</text>
<path d="M356.6 127.8 L356.6 170.5 L402.5 170.5" fill="none" stroke="#222" stroke-width="1"/>
<line x1="354.2" y1="170.50" x2="356.6" y2="170.50" stroke="#222" stroke-width="0.8"/>
<text x="351.8" y="172.6" font-size="6" fill="#222" text-anchor="end" font-weight="normal" font-style="normal" >0.0</text>
<line x1="354.2" y1="160.60" x2="356.6" y2="160.60" stroke="#222" stroke-width="0.8"/>
<text x="351.8" y="162.7" font-size="6" fill="#222" text-anchor="end" font-weight="normal" font-style="normal" >0.2</text>
<line x1="354.2" y1="150.70" x2="356.6" y2="150.70" stroke="#222" stroke-width="0.8"/>
<text x="351.8" y="152.79999999999998" font-size="6" fill="#222" text-anchor="end" font-weight="normal" font-style="normal" >0.4</text>
<line x1="354.2" y1="140.80" x2="356.6" y2="140.80" stroke="#222" stroke-width="0.8"/>
<text x="351.8" y="142.9" font-size="6" fill="#222" text-anchor="end" font-weight="normal" font-style="normal" >0.6</text>
<line x1="354.2" y1="130.90" x2="356.6" y2="130.90" stroke="#222" stroke-width="0.8"/>
<text x="351.8" y="133.0" font-size="6" fill="#222" text-anchor="end" font-weight="normal" font-style="normal" >0.8</text>
<line x1="370" y1="170.5" x2="370" y2="172.8" stroke="#222" stroke-width="0.8"/>
<line x1="390" y1="170.5" x2="390" y2="172.8" stroke="#222" stroke-width="0.8"/>
<line x1="370" y1="137.8" x2="370" y2="168.0" stroke="#2a64a0" stroke-width="0.9"/>
<line x1="366.5" y1="140.8" x2="373.5" y2="140.8" stroke="#2a64a0" stroke-width="0.9"/>
<rect x="363.5" y="150.2" width="13" height="10.4" fill="#dbe6f2" stroke="#2a64a0" stroke-width="1"/>
<line x1="363.5" y1="156.1" x2="376.5" y2="156.1" stroke="#2a64a0" stroke-width="1"/>
<circle cx="369.9" cy="162.0" r="0.8" fill="#2a64a0" opacity="0.8"/>
<circle cx="364.9" cy="155.0" r="0.8" fill="#2a64a0" opacity="0.8"/>
<circle cx="371.1" cy="162.0" r="0.8" fill="#2a64a0" opacity="0.8"/>
<circle cx="369.9" cy="161.6" r="0.8" fill="#2a64a0" opacity="0.8"/>
<circle cx="367.6" cy="157.6" r="0.8" fill="#2a64a0" opacity="0.8"/>
<circle cx="369.5" cy="161.2" r="0.8" fill="#2a64a0" opacity="0.8"/>
<circle cx="368.7" cy="148.5" r="0.8" fill="#2a64a0" opacity="0.8"/>
<circle cx="366.2" cy="147.2" r="0.8" fill="#2a64a0" opacity="0.8"/>
<circle cx="372.9" cy="156.0" r="0.8" fill="#2a64a0" opacity="0.8"/>
<circle cx="368.5" cy="146.8" r="0.8" fill="#2a64a0" opacity="0.8"/>
<circle cx="370.9" cy="154.0" r="0.8" fill="#2a64a0" opacity="0.8"/>
<circle cx="370.3" cy="157.4" r="0.8" fill="#2a64a0" opacity="0.8"/>
<circle cx="370.9" cy="155.5" r="0.8" fill="#2a64a0" opacity="0.8"/>
<circle cx="366.5" cy="159.8" r="0.8" fill="#2a64a0" opacity="0.8"/>
<circle cx="369.2" cy="153.4" r="0.8" fill="#2a64a0" opacity="0.8"/>
<circle cx="366.7" cy="157.2" r="0.8" fill="#2a64a0" opacity="0.8"/>
<circle cx="373.7" cy="149.3" r="0.8" fill="#2a64a0" opacity="0.8"/>
<circle cx="369.7" cy="152.2" r="0.8" fill="#2a64a0" opacity="0.8"/>
<circle cx="369.3" cy="150.9" r="0.8" fill="#2a64a0" opacity="0.8"/>
<circle cx="370.6" cy="170.6" r="0.8" fill="#2a64a0" opacity="0.8"/>
<circle cx="368.8" cy="154.2" r="0.8" fill="#2a64a0" opacity="0.8"/>
<circle cx="371.2" cy="161.1" r="0.8" fill="#2a64a0" opacity="0.8"/>
<circle cx="371.3" cy="157.4" r="0.8" fill="#2a64a0" opacity="0.8"/>
<circle cx="373.3" cy="159.0" r="0.8" fill="#2a64a0" opacity="0.8"/>
<circle cx="370.4" cy="149.4" r="0.8" fill="#2a64a0" opacity="0.8"/>
<circle cx="370.2" cy="156.5" r="0.8" fill="#2a64a0" opacity="0.8"/>
<circle cx="372.8" cy="159.0" r="0.8" fill="#2a64a0" opacity="0.8"/>
<circle cx="369.9" cy="157.4" r="0.8" fill="#2a64a0" opacity="0.8"/>
<circle cx="369.6" cy="147.0" r="0.8" fill="#2a64a0" opacity="0.8"/>
<circle cx="369.8" cy="153.4" r="0.8" fill="#2a64a0" opacity="0.8"/>
<circle cx="370.7" cy="155.8" r="0.8" fill="#2a64a0" opacity="0.8"/>
<circle cx="368.2" cy="154.9" r="0.8" fill="#2a64a0" opacity="0.8"/>
<circle cx="371.8" cy="152.1" r="0.8" fill="#2a64a0" opacity="0.8"/>
<circle cx="367.8" cy="147.9" r="0.8" fill="#2a64a0" opacity="0.8"/>
<circle cx="371.3" cy="155.8" r="0.8" fill="#2a64a0" opacity="0.8"/>
<circle cx="368.5" cy="150.0" r="0.8" fill="#2a64a0" opacity="0.8"/>
<circle cx="369.1" cy="156.3" r="0.8" fill="#2a64a0" opacity="0.8"/>
<circle cx="371.2" cy="148.6" r="0.8" fill="#2a64a0" opacity="0.8"/>
<circle cx="370.4" cy="157.4" r="0.8" fill="#2a64a0" opacity="0.8"/>
<circle cx="368.8" cy="149.1" r="0.8" fill="#2a64a0" opacity="0.8"/>
<circle cx="369.1" cy="155.0" r="0.8" fill="#2a64a0" opacity="0.8"/>
<circle cx="369.3" cy="154.5" r="0.8" fill="#2a64a0" opacity="0.8"/>
<circle cx="368.1" cy="152.1" r="0.8" fill="#2a64a0" opacity="0.8"/>
<circle cx="372.5" cy="159.0" r="0.8" fill="#2a64a0" opacity="0.8"/>
<circle cx="369.2" cy="152.1" r="0.8" fill="#2a64a0" opacity="0.8"/>
<path d="M367.5 169.0 L370 166.0 L372.5 169.0 Z" fill="#2a64a0"/>
<line x1="390" y1="133.4" x2="390" y2="170.5" stroke="#d02848" stroke-width="0.9"/>
<line x1="386.5" y1="133.4" x2="393.5" y2="133.4" stroke="#d02848" stroke-width="0.9"/>
<rect x="383.4" y="159.1" width="13" height="8.9" fill="#f6d6dc" stroke="#d02848" stroke-width="1"/>
<line x1="383.4" y1="165.6" x2="396.4" y2="165.6" stroke="#d02848" stroke-width="1"/>
<circle cx="392.0" cy="160.8" r="0.8" fill="#d02848" opacity="0.8"/>
<circle cx="391.1" cy="164.4" r="0.8" fill="#d02848" opacity="0.8"/>
<circle cx="390.6" cy="163.8" r="0.8" fill="#d02848" opacity="0.8"/>
<circle cx="391.9" cy="163.4" r="0.8" fill="#d02848" opacity="0.8"/>
<circle cx="393.7" cy="167.1" r="0.8" fill="#d02848" opacity="0.8"/>
<circle cx="392.6" cy="165.9" r="0.8" fill="#d02848" opacity="0.8"/>
<circle cx="391.9" cy="162.8" r="0.8" fill="#d02848" opacity="0.8"/>
<circle cx="390.2" cy="161.2" r="0.8" fill="#d02848" opacity="0.8"/>
<circle cx="390.4" cy="157.4" r="0.8" fill="#d02848" opacity="0.8"/>
<circle cx="389.5" cy="167.3" r="0.8" fill="#d02848" opacity="0.8"/>
<circle cx="390.8" cy="166.2" r="0.8" fill="#d02848" opacity="0.8"/>
<circle cx="392.6" cy="158.1" r="0.8" fill="#d02848" opacity="0.8"/>
<circle cx="391.1" cy="169.3" r="0.8" fill="#d02848" opacity="0.8"/>
<circle cx="388.0" cy="162.3" r="0.8" fill="#d02848" opacity="0.8"/>
<circle cx="389.9" cy="169.6" r="0.8" fill="#d02848" opacity="0.8"/>
<circle cx="389.8" cy="160.5" r="0.8" fill="#d02848" opacity="0.8"/>
<circle cx="386.9" cy="161.1" r="0.8" fill="#d02848" opacity="0.8"/>
<circle cx="388.2" cy="167.5" r="0.8" fill="#d02848" opacity="0.8"/>
<circle cx="390.6" cy="165.4" r="0.8" fill="#d02848" opacity="0.8"/>
<circle cx="390.6" cy="163.4" r="0.8" fill="#d02848" opacity="0.8"/>
<circle cx="388.2" cy="164.8" r="0.8" fill="#d02848" opacity="0.8"/>
<circle cx="390.8" cy="163.6" r="0.8" fill="#d02848" opacity="0.8"/>
<circle cx="386.1" cy="159.7" r="0.8" fill="#d02848" opacity="0.8"/>
<circle cx="388.4" cy="166.3" r="0.8" fill="#d02848" opacity="0.8"/>
<circle cx="391.9" cy="164.4" r="0.8" fill="#d02848" opacity="0.8"/>
<circle cx="390.3" cy="167.1" r="0.8" fill="#d02848" opacity="0.8"/>
<circle cx="390.6" cy="167.8" r="0.8" fill="#d02848" opacity="0.8"/>
<circle cx="388.5" cy="153.0" r="0.8" fill="#d02848" opacity="0.8"/>
<circle cx="389.5" cy="167.8" r="0.8" fill="#d02848" opacity="0.8"/>
<circle cx="389.6" cy="160.8" r="0.8" fill="#d02848" opacity="0.8"/>
<circle cx="389.6" cy="139.8" r="0.9" fill="#d02848"/>
<circle cx="388.5" cy="148.2" r="0.9" fill="#d02848"/>
<circle cx="389.6" cy="151.7" r="0.9" fill="#d02848"/>
<circle cx="389.9" cy="154.2" r="0.9" fill="#d02848"/>
<text x="370" y="182.3" font-size="6.1" fill="#222" text-anchor="middle" font-weight="normal" font-style="normal" >DE</text>
<text x="390" y="182.3" font-size="6.1" fill="#222" text-anchor="middle" font-weight="normal" font-style="normal" >non-DE</text>
<text transform="translate(379.6,193.8) scale(0.76,1)" font-size="7.3" font-weight="bold" fill="#1a1a1a" text-anchor="middle">Marker expression</text>
<text x="14.9" y="221.0" font-size="11.4" fill="#0a0a0a" text-anchor="start" font-weight="bold" font-style="normal" >B</text>
<rect x="20.0" y="230.1" width="48.4" height="54.5" fill="#090f0d"/>
<rect x="20.0" y="230.1" width="48.4" height="54.5" fill="#000" filter="url(#tex0)"/>
<rect x="20.0" y="230.1" width="48.4" height="54.5" fill="#000" filter="url(#spk0)"/>
<text x="44.2" y="237.7" font-size="7.7" fill="#e4e4e4" text-anchor="middle" font-weight="normal" font-style="normal" >aSMA</text>
<rect x="70.6" y="230.1" width="48.4" height="54.5" fill="#1a170b"/>
<rect x="70.6" y="230.1" width="48.4" height="54.5" fill="#000" filter="url(#tex1)"/>
<rect x="70.6" y="230.1" width="48.4" height="54.5" fill="#000" filter="url(#spk1)"/>
<text x="94.8" y="237.7" font-size="7.7" fill="#e4e4e4" text-anchor="middle" font-weight="normal" font-style="normal" >Vimentin</text>
<rect x="121.2" y="230.1" width="48.4" height="54.5" fill="#0c150b"/>
<rect x="121.2" y="230.1" width="48.4" height="54.5" fill="#000" filter="url(#tex2)"/>
<rect x="121.2" y="230.1" width="48.4" height="54.5" fill="#000" filter="url(#spk2)"/>
<text x="145.4" y="237.7" font-size="7.7" fill="#e4e4e4" text-anchor="middle" font-weight="normal" font-style="normal" >Bcl-2</text>
<rect x="171.8" y="230.1" width="48.4" height="54.5" fill="#0f1c1d"/>
<rect x="171.8" y="230.1" width="48.4" height="54.5" fill="#000" filter="url(#tex3)"/>
<rect x="171.8" y="230.1" width="48.4" height="54.5" fill="#000" filter="url(#spk3)"/>
<text x="196.0" y="237.7" font-size="7.7" fill="#e4e4e4" text-anchor="middle" font-weight="normal" font-style="normal" >c-Myc</text>
<rect x="222.4" y="230.1" width="48.4" height="54.5" fill="#1c0b09"/>
<rect x="222.4" y="230.1" width="48.4" height="54.5" fill="#000" filter="url(#tex4)"/>
<rect x="222.4" y="230.1" width="48.4" height="54.5" fill="#000" filter="url(#spk4)"/>
<text x="246.6" y="237.7" font-size="7.7" fill="#e4e4e4" text-anchor="middle" font-weight="normal" font-style="normal" >p-S6</text>
<rect x="273.0" y="230.1" width="48.4" height="54.5" fill="#1f1f10"/>
<rect x="273.0" y="230.1" width="48.4" height="54.5" fill="#000" filter="url(#tex5)"/>
<rect x="273.0" y="230.1" width="48.4" height="54.5" fill="#000" filter="url(#spk5)"/>
<text x="297.2" y="237.7" font-size="7.7" fill="#e4e4e4" text-anchor="middle" font-weight="normal" font-style="normal" >NF-kB</text>
<rect x="20.0" y="286.6" width="48.4" height="54.3" fill="#140b10"/>
<rect x="20.0" y="286.6" width="48.4" height="54.3" fill="#000" filter="url(#tex6)"/>
<rect x="20.0" y="286.6" width="48.4" height="54.3" fill="#000" filter="url(#spk6)"/>
<text x="44.2" y="294.20000000000005" font-size="7.7" fill="#e4e4e4" text-anchor="middle" font-weight="normal" font-style="normal" >CD3</text>
<rect x="70.6" y="286.6" width="48.4" height="54.3" fill="#0d170d"/>
<rect x="70.6" y="286.6" width="48.4" height="54.3" fill="#000" filter="url(#tex7)"/>
<rect x="70.6" y="286.6" width="48.4" height="54.3" fill="#000" filter="url(#spk7)"/>
<text x="94.8" y="294.20000000000005" font-size="7.7" fill="#e4e4e4" text-anchor="middle" font-weight="normal" font-style="normal" >CD8</text>
<rect x="121.2" y="286.6" width="48.4" height="54.3" fill="#1c0c09"/>
<rect x="121.2" y="286.6" width="48.4" height="54.3" fill="#000" filter="url(#tex8)"/>
<rect x="121.2" y="286.6" width="48.4" height="54.3" fill="#000" filter="url(#spk8)"/>
<text x="145.4" y="294.20000000000005" font-size="7.7" fill="#e4e4e4" text-anchor="middle" font-weight="normal" font-style="normal" >CD4</text>
<rect x="171.8" y="286.6" width="48.4" height="54.3" fill="#0e0d0c"/>
<rect x="171.8" y="286.6" width="48.4" height="54.3" fill="#000" filter="url(#tex9)"/>
<rect x="171.8" y="286.6" width="48.4" height="54.3" fill="#000" filter="url(#spk9)"/>
<text x="196.0" y="294.20000000000005" font-size="7.7" fill="#e4e4e4" text-anchor="middle" font-weight="normal" font-style="normal" >PD-1</text>
<rect x="222.4" y="286.6" width="48.4" height="54.3" fill="#0d0c0d"/>
<rect x="222.4" y="286.6" width="48.4" height="54.3" fill="#000" filter="url(#tex10)"/>
<rect x="222.4" y="286.6" width="48.4" height="54.3" fill="#000" filter="url(#spk10)"/>
<text x="246.6" y="294.20000000000005" font-size="7.7" fill="#e4e4e4" text-anchor="middle" font-weight="normal" font-style="normal" >LAG-3</text>
<rect x="273.0" y="286.6" width="48.4" height="54.3" fill="#130d0b"/>
<rect x="273.0" y="286.6" width="48.4" height="54.3" fill="#000" filter="url(#tex11)"/>
<rect x="273.0" y="286.6" width="48.4" height="54.3" fill="#000" filter="url(#spk11)"/>
<text x="297.2" y="294.20000000000005" font-size="7.7" fill="#e4e4e4" text-anchor="middle" font-weight="normal" font-style="normal" >PD-L1</text>
<text x="13.1" y="386.6" font-size="11.4" fill="#0a0a0a" text-anchor="start" font-weight="bold" font-style="normal" >C</text>
<rect x="25.20" y="388.20" width="14.53" height="14.10" fill="#faf0c0"/>
<rect x="39.43" y="388.20" width="14.53" height="14.10" fill="#f9efc4"/>
<rect x="53.66" y="388.20" width="14.53" height="14.10" fill="#e8f0ee"/>
<rect x="67.89" y="388.20" width="14.53" height="14.10" fill="#ec6a45"/>
<rect x="82.12" y="388.20" width="14.53" height="14.10" fill="#e6eeee"/>
<rect x="96.35" y="388.20" width="14.53" height="14.10" fill="#f8ecb8"/>
<rect x="110.58" y="388.20" width="14.53" height="14.10" fill="#8fb4d6"/>
<rect x="124.81" y="388.20" width="14.53" height="14.10" fill="#f8eebc"/>
<rect x="139.04" y="388.20" width="14.53" height="14.10" fill="#d9e8f2"/>
<rect x="153.27" y="388.20" width="14.53" height="14.10" fill="#f9d796"/>
<rect x="167.50" y="388.20" width="14.53" height="14.10" fill="#5b8ac3"/>
<rect x="181.73" y="388.20" width="14.53" height="14.10" fill="#b2cfe6"/>
<rect x="195.96" y="388.20" width="14.53" height="14.10" fill="#77a2cf"/>
<rect x="210.19" y="388.20" width="14.53" height="14.10" fill="#ee7a4f"/>
<rect x="25.20" y="402.00" width="14.53" height="14.10" fill="#f8e7ac"/>
<rect x="39.43" y="402.00" width="14.53" height="14.10" fill="#e3eef0"/>
<rect x="53.66" y="402.00" width="14.53" height="14.10" fill="#9fc0dc"/>
<rect x="67.89" y="402.00" width="14.53" height="14.10" fill="#ec6a45"/>
<rect x="82.12" y="402.00" width="14.53" height="14.10" fill="#b8d3e6"/>
<rect x="96.35" y="402.00" width="14.53" height="14.10" fill="#f9e5a5"/>
<rect x="110.58" y="402.00" width="14.53" height="14.10" fill="#f9e7ac"/>
<rect x="124.81" y="402.00" width="14.53" height="14.10" fill="#eef2e8"/>
<rect x="139.04" y="402.00" width="14.53" height="14.10" fill="#f9dd98"/>
<rect x="153.27" y="402.00" width="14.53" height="14.10" fill="#9ec0df"/>
<rect x="167.50" y="402.00" width="14.53" height="14.10" fill="#6a97ca"/>
<rect x="181.73" y="402.00" width="14.53" height="14.10" fill="#4f80be"/>
<rect x="195.96" y="402.00" width="14.53" height="14.10" fill="#fae0a0"/>
<rect x="210.19" y="402.00" width="14.53" height="14.10" fill="#f2f0d8"/>
<rect x="25.20" y="415.80" width="14.53" height="14.10" fill="#dfeaf0"/>
<rect x="39.43" y="415.80" width="14.53" height="14.10" fill="#8fb4d6"/>
<rect x="53.66" y="415.80" width="14.53" height="14.10" fill="#7ba6d0"/>
<rect x="67.89" y="415.80" width="14.53" height="14.10" fill="#fbe6a5"/>
<rect x="82.12" y="415.80" width="14.53" height="14.10" fill="#8db3d4"/>
<rect x="96.35" y="415.80" width="14.53" height="14.10" fill="#eef2ea"/>
<rect x="110.58" y="415.80" width="14.53" height="14.10" fill="#7fa8cf"/>
<rect x="124.81" y="415.80" width="14.53" height="14.10" fill="#e3edf0"/>
<rect x="139.04" y="415.80" width="14.53" height="14.10" fill="#f7ebbd"/>
<rect x="153.27" y="415.80" width="14.53" height="14.10" fill="#4b7dbd"/>
<rect x="167.50" y="415.80" width="14.53" height="14.10" fill="#fbeebb"/>
<rect x="181.73" y="415.80" width="14.53" height="14.10" fill="#4879b9"/>
<rect x="195.96" y="415.80" width="14.53" height="14.10" fill="#dbe9f2"/>
<rect x="210.19" y="415.80" width="14.53" height="14.10" fill="#e6efee"/>
<rect x="25.20" y="429.60" width="14.53" height="14.10" fill="#fbefc0"/>
<rect x="39.43" y="429.60" width="14.53" height="14.10" fill="#faf0c6"/>
<rect x="53.66" y="429.60" width="14.53" height="14.10" fill="#e6eeec"/>
<rect x="67.89" y="429.60" width="14.53" height="14.10" fill="#d63a2e"/>
<rect x="82.12" y="429.60" width="14.53" height="14.10" fill="#fbecb8"/>
<rect x="96.35" y="429.60" width="14.53" height="14.10" fill="#f6b27a"/>
<rect x="110.58" y="429.60" width="14.53" height="14.10" fill="#eef2e6"/>
<rect x="124.81" y="429.60" width="14.53" height="14.10" fill="#f9e7ad"/>
<rect x="139.04" y="429.60" width="14.53" height="14.10" fill="#fadc9a"/>
<rect x="153.27" y="429.60" width="14.53" height="14.10" fill="#fbf0c5"/>
<rect x="167.50" y="429.60" width="14.53" height="14.10" fill="#ee7249"/>
<rect x="181.73" y="429.60" width="14.53" height="14.10" fill="#94b8da"/>
<rect x="195.96" y="429.60" width="14.53" height="14.10" fill="#f7bd80"/>
<rect x="210.19" y="429.60" width="14.53" height="14.10" fill="#f7ba7d"/>
<rect x="25.20" y="443.40" width="14.53" height="14.10" fill="#f9e3a6"/>
<rect x="39.43" y="443.40" width="14.53" height="14.10" fill="#fae4a6"/>
<rect x="53.66" y="443.40" width="14.53" height="14.10" fill="#f9e3a5"/>
<rect x="67.89" y="443.40" width="14.53" height="14.10" fill="#f5a66e"/>
<rect x="82.12" y="443.40" width="14.53" height="14.10" fill="#fbefc0"/>
<rect x="96.35" y="443.40" width="14.53" height="14.10" fill="#f5a263"/>
<rect x="110.58" y="443.40" width="14.53" height="14.10" fill="#eef1e5"/>
<rect x="124.81" y="443.40" width="14.53" height="14.10" fill="#f8e2a0"/>
<rect x="139.04" y="443.40" width="14.53" height="14.10" fill="#f9e0a0"/>
<rect x="153.27" y="443.40" width="14.53" height="14.10" fill="#a0c2df"/>
<rect x="167.50" y="443.40" width="14.53" height="14.10" fill="#6e9acb"/>
<rect x="181.73" y="443.40" width="14.53" height="14.10" fill="#86aed5"/>
<rect x="195.96" y="443.40" width="14.53" height="14.10" fill="#8ab1d6"/>
<rect x="210.19" y="443.40" width="14.53" height="14.10" fill="#b5d0e5"/>
<rect x="25.20" y="457.20" width="14.53" height="14.10" fill="#eef2e8"/>
<rect x="39.43" y="457.20" width="14.53" height="14.10" fill="#e3edf2"/>
<rect x="53.66" y="457.20" width="14.53" height="14.10" fill="#a8c6e0"/>
<rect x="67.89" y="457.20" width="14.53" height="14.10" fill="#fad48e"/>
<rect x="82.12" y="457.20" width="14.53" height="14.10" fill="#b5cfe5"/>
<rect x="96.35" y="457.20" width="14.53" height="14.10" fill="#fbeebc"/>
<rect x="110.58" y="457.20" width="14.53" height="14.10" fill="#e0ebf0"/>
<rect x="124.81" y="457.20" width="14.53" height="14.10" fill="#f9c98a"/>
<rect x="139.04" y="457.20" width="14.53" height="14.10" fill="#f9cd8c"/>
<rect x="153.27" y="457.20" width="14.53" height="14.10" fill="#a5c4e0"/>
<rect x="167.50" y="457.20" width="14.53" height="14.10" fill="#6894c8"/>
<rect x="181.73" y="457.20" width="14.53" height="14.10" fill="#5b89c3"/>
<rect x="195.96" y="457.20" width="14.53" height="14.10" fill="#7ca6d0"/>
<rect x="210.19" y="457.20" width="14.53" height="14.10" fill="#faefb8"/>
<rect x="25.20" y="471.00" width="14.53" height="14.10" fill="#f9cf86"/>
<rect x="39.43" y="471.00" width="14.53" height="14.10" fill="#7ea9d1"/>
<rect x="53.66" y="471.00" width="14.53" height="14.10" fill="#6c9acb"/>
<rect x="67.89" y="471.00" width="14.53" height="14.10" fill="#bcd4e6"/>
<rect x="82.12" y="471.00" width="14.53" height="14.10" fill="#6c9acb"/>
<rect x="96.35" y="471.00" width="14.53" height="14.10" fill="#dde9f1"/>
<rect x="110.58" y="471.00" width="14.53" height="14.10" fill="#7aa5cf"/>
<rect x="124.81" y="471.00" width="14.53" height="14.10" fill="#c4dcec"/>
<rect x="139.04" y="471.00" width="14.53" height="14.10" fill="#fae8ad"/>
<rect x="153.27" y="471.00" width="14.53" height="14.10" fill="#4a7cbc"/>
<rect x="167.50" y="471.00" width="14.53" height="14.10" fill="#4a7cbc"/>
<rect x="181.73" y="471.00" width="14.53" height="14.10" fill="#4272b5"/>
<rect x="195.96" y="471.00" width="14.53" height="14.10" fill="#6391c6"/>
<rect x="210.19" y="471.00" width="14.53" height="14.10" fill="#8cb2d7"/>
<rect x="25.20" y="484.80" width="14.53" height="14.10" fill="#a8c6df"/>
<rect x="39.43" y="484.80" width="14.53" height="14.10" fill="#6f9bcb"/>
<rect x="53.66" y="484.80" width="14.53" height="14.10" fill="#5c8cc4"/>
<rect x="67.89" y="484.80" width="14.53" height="14.10" fill="#bcd5e7"/>
<rect x="82.12" y="484.80" width="14.53" height="14.10" fill="#5c8cc4"/>
<rect x="96.35" y="484.80" width="14.53" height="14.10" fill="#8cb1d6"/>
<rect x="110.58" y="484.80" width="14.53" height="14.10" fill="#5d8cc4"/>
<rect x="124.81" y="484.80" width="14.53" height="14.10" fill="#9ebfde"/>
<rect x="139.04" y="484.80" width="14.53" height="14.10" fill="#86add5"/>
<rect x="153.27" y="484.80" width="14.53" height="14.10" fill="#6a97ca"/>
<rect x="167.50" y="484.80" width="14.53" height="14.10" fill="#4d7fbd"/>
<rect x="181.73" y="484.80" width="14.53" height="14.10" fill="#5585c1"/>
<rect x="195.96" y="484.80" width="14.53" height="14.10" fill="#5283c0"/>
<rect x="210.19" y="484.80" width="14.53" height="14.10" fill="#d2e3ef"/>
<text transform="translate(34.61,501.9) rotate(-90)" font-size="7.5" fill="#1e1e1e" text-anchor="end">α-SMA</text>
<text transform="translate(48.84,501.9) rotate(-90)" font-size="7.5" fill="#1e1e1e" text-anchor="end">CD274</text>
<text transform="translate(63.07,501.9) rotate(-90)" font-size="7.5" fill="#1e1e1e" text-anchor="end">CD163</text>
<text transform="translate(77.30,501.9) rotate(-90)" font-size="7.5" fill="#1e1e1e" text-anchor="end">CD45</text>
<text transform="translate(91.53,501.9) rotate(-90)" font-size="7.5" fill="#1e1e1e" text-anchor="end">CD223</text>
<text transform="translate(105.77,501.9) rotate(-90)" font-size="7.5" fill="#1e1e1e" text-anchor="end">CD366</text>
<text transform="translate(119.99,501.9) rotate(-90)" font-size="7.5" fill="#1e1e1e" text-anchor="end">CD4</text>
<text transform="translate(134.23,501.9) rotate(-90)" font-size="7.5" fill="#1e1e1e" text-anchor="end">CD68</text>
<text transform="translate(148.46,501.9) rotate(-90)" font-size="7.5" fill="#1e1e1e" text-anchor="end">Vimentin</text>
<text transform="translate(162.69,501.9) rotate(-90)" font-size="7.5" fill="#1e1e1e" text-anchor="end">CD20</text>
<text transform="translate(176.92,501.9) rotate(-90)" font-size="7.5" fill="#1e1e1e" text-anchor="end">CD8</text>
<text transform="translate(191.15,501.9) rotate(-90)" font-size="7.5" fill="#1e1e1e" text-anchor="end">Ki-67</text>
<text transform="translate(205.38,501.9) rotate(-90)" font-size="7.5" fill="#1e1e1e" text-anchor="end">CD3</text>
<text transform="translate(219.61,501.9) rotate(-90)" font-size="7.5" fill="#1e1e1e" text-anchor="end">HLA-DR</text>
<rect x="227" y="388.3" width="14.6" height="110.3" fill="#fff" stroke="#333" stroke-width="0.8"/>
<rect x="227.6" y="391.10" width="12.6" height="7.6" fill="#3a6aae"/>
<rect x="227.6" y="404.90" width="1.6" height="7.6" fill="#e0602a"/>
<rect x="227.6" y="418.70" width="0.5" height="7.6" fill="#555"/>
<rect x="227.6" y="432.50" width="0.9" height="7.6" fill="#3a8a3a"/>
<rect x="227.6" y="446.30" width="0.2" height="7.6" fill="#e0a040"/>
<rect x="227.6" y="460.10" width="5.2" height="7.6" fill="#c86a98"/>
<rect x="227.6" y="473.90" width="0.6" height="7.6" fill="#8a4a40"/>
<rect x="227.6" y="487.70" width="0.1" height="7.6" fill="#aaa"/>
<line x1="227.00" y1="498.6" x2="227.00" y2="500.3" stroke="#333" stroke-width="0.5"/>
<line x1="230.45" y1="498.6" x2="230.45" y2="500.3" stroke="#333" stroke-width="0.5"/>
<line x1="233.90" y1="498.6" x2="233.90" y2="500.3" stroke="#333" stroke-width="0.5"/>
<line x1="237.35" y1="498.6" x2="237.35" y2="500.3" stroke="#333" stroke-width="0.5"/>
<text transform="translate(227.90,503.4) rotate(-90) scale(1,0.9)" font-size="3.1" fill="#444" text-anchor="end" textLength="13" lengthAdjust="spacingAndGlyphs">2500</text>
<text transform="translate(231.35,503.4) rotate(-90) scale(1,0.9)" font-size="3.1" fill="#444" text-anchor="end" textLength="13" lengthAdjust="spacingAndGlyphs">5000</text>
<text transform="translate(234.80,503.4) rotate(-90) scale(1,0.9)" font-size="3.1" fill="#444" text-anchor="end" textLength="13" lengthAdjust="spacingAndGlyphs">7500</text>
<text transform="translate(238.25,503.4) rotate(-90) scale(1,0.9)" font-size="3.1" fill="#444" text-anchor="end" textLength="13" lengthAdjust="spacingAndGlyphs">10000</text>
<text transform="translate(233.9,523.6) scale(0.8,1)" font-size="5.0" font-weight="bold" fill="#333" text-anchor="middle">Counts</text>
<text x="244.6" y="398.4" font-size="7.45" fill="#222" text-anchor="start" font-weight="normal" font-style="normal" >B cell</text>
<text x="244.6" y="412.4" font-size="7.45" fill="#222" text-anchor="start" font-weight="normal" font-style="normal" >CD4<tspan dy="-2.8" font-size="5.4">+</tspan><tspan dy="2.8"> Tex</tspan></text>
<text x="244.6" y="426.4" font-size="7.45" fill="#222" text-anchor="start" font-weight="normal" font-style="normal" >CD8<tspan dy="-2.8" font-size="5.4">+</tspan><tspan dy="2.8"> T</tspan></text>
<text x="244.6" y="440.4" font-size="7.45" fill="#222" text-anchor="start" font-weight="normal" font-style="normal" >CD8<tspan dy="-2.8" font-size="5.4">+</tspan><tspan dy="2.8"> Tex</tspan></text>
<text x="244.6" y="454.4" font-size="7.45" fill="#222" text-anchor="start" font-weight="normal" font-style="normal" >CD163<tspan dy="-2.8" font-size="5.4">+</tspan><tspan dy="2.8"> Macrophage</tspan></text>
<text x="244.6" y="468.4" font-size="7.45" fill="#222" text-anchor="start" font-weight="normal" font-style="normal" >CD163<tspan dy="-2.8" font-size="5.4">−</tspan><tspan dy="2.8"> Macrophage</tspan></text>
<text x="244.6" y="482.4" font-size="7.45" fill="#222" text-anchor="start" font-weight="normal" font-style="normal" >Fibroblast</text>
<text x="244.6" y="496.4" font-size="7.45" fill="#222" text-anchor="start" font-weight="normal" font-style="normal" >Lineage</text>
<text x="134.8" y="543.6" font-size="6.2" fill="#222" text-anchor="middle" font-weight="normal" font-style="normal" >Expression value</text>
<rect x="88.4" y="547.3" width="93.4" height="9.2" fill="url(#cbar)"/>
<line x1="89.30" y1="554.5" x2="89.30" y2="556.5" stroke="#fff" stroke-width="0.6"/>
<text transform="translate(92.30,560.4) rotate(-45)" font-size="6.2" fill="#222" text-anchor="end">0</text>
<line x1="111.60" y1="554.5" x2="111.60" y2="556.5" stroke="#fff" stroke-width="0.6"/>
<text transform="translate(114.60,560.4) rotate(-45)" font-size="6.2" fill="#222" text-anchor="end">0.2</text>
<line x1="133.90" y1="554.5" x2="133.90" y2="556.5" stroke="#fff" stroke-width="0.6"/>
<text transform="translate(136.90,560.4) rotate(-45)" font-size="6.2" fill="#222" text-anchor="end">0.4</text>
<line x1="156.20" y1="554.5" x2="156.20" y2="556.5" stroke="#fff" stroke-width="0.6"/>
<text transform="translate(159.20,560.4) rotate(-45)" font-size="6.2" fill="#222" text-anchor="end">0.6</text>
<line x1="178.50" y1="554.5" x2="178.50" y2="556.5" stroke="#fff" stroke-width="0.6"/>
<text transform="translate(181.50,560.4) rotate(-45)" font-size="6.2" fill="#222" text-anchor="end">0.8</text>
<text x="341.6" y="221.2" font-size="11.4" fill="#0a0a0a" text-anchor="start" font-weight="bold" font-style="normal" >D</text>
<g clip-path="url(#clipD)">
<rect x="360" y="215" width="140" height="125" fill="#5079b2"/>
<polygon points="388.00,262.00 398.00,251.00 412.00,249.00 426.00,242.00 430.00,224.00 470.00,220.00 482.00,240.00 500.00,270.00 490.00,290.00 470.00,298.00 455.00,300.00 440.00,293.00 434.00,281.00 424.00,273.00 410.00,273.00 396.00,275.00" fill="#d688b4" opacity="1" filter="url(#blurD)"/>
<polygon points="446.00,234.00 452.00,220.00 486.00,220.00 486.00,252.00 484.00,268.00 474.00,270.00 462.00,264.00 452.00,254.00 444.00,244.00" fill="#cd8a7e" opacity="0.95" filter="url(#blurD)"/>
<polygon points="461.00,257.00 471.00,256.00 473.00,264.00 462.00,265.00" fill="#d688b4" opacity="0.9" filter="url(#blurD2)"/>
<polygon points="470.00,264.00 486.00,264.00 498.00,276.00 488.00,288.00 474.00,286.00 468.00,276.00" fill="#c4acb2" opacity="0.95" filter="url(#blurD)"/>
<polygon points="404.00,250.00 414.00,248.00 420.00,244.00 432.00,243.00 437.00,250.00 434.00,258.00 422.00,259.00 410.00,256.00" fill="#bca4a6" opacity="0.9" filter="url(#blurD)"/>
<polygon points="428.00,222.00 446.00,222.00 446.00,233.00 443.00,242.00 434.00,246.00 428.00,240.00" fill="#d8aa50" opacity="1" filter="url(#blurD2)"/>
<polygon points="384.00,247.00 386.00,224.00 424.00,222.00 423.00,238.00 419.00,245.00 410.00,250.00 398.00,250.00 388.00,250.00" fill="#e67640" opacity="1" filter="url(#blurD2)"/>
<polygon points="366.00,256.00 376.00,242.00 386.00,244.00 392.00,247.00 401.00,252.00 404.00,264.00 400.00,274.00 390.00,280.00 368.00,280.00" fill="#5ea856" opacity="1" filter="url(#blurD2)"/>
<polygon points="420.00,234.00 426.00,231.00 428.00,242.00 422.00,245.00" fill="#5ea856" opacity="0.9" filter="url(#blurD2)"/>
<polygon points="372.00,266.00 381.00,266.00 382.00,272.00 372.00,273.00" fill="#e67640" opacity="0.8" filter="url(#blurD2)"/>
<polygon points="397.00,264.00 404.00,264.00 405.00,272.00 398.00,272.00" fill="#7a80c0" opacity="0.6" filter="url(#blurD2)"/>
<polygon points="440.00,290.00 458.00,294.00 472.00,290.00 484.00,284.00 478.00,300.00 468.00,310.00 456.00,316.00 446.00,310.00 440.00,300.00" fill="#d688b4" opacity="0.45" filter="url(#blurD)"/>
<polygon points="404.80,298.50 406.00,302.00 407.00,309.00 410.50,314.00 417.00,318.80 409.00,318.60 402.50,319.50 403.50,310.00" fill="#ffffff" opacity="0.95" filter="url(#blurD2)"/>
<path d="M373.80 263.00 Q373.60 260.00 374.80 256.00 Q376.00 252.00 378.25 248.75 Q380.50 245.50 383.25 241.00 Q386.00 236.50 389.50 234.25 Q393.00 232.00 396.50 230.75 Q400.00 229.50 404.00 229.00 Q408.00 228.50 411.75 228.85 Q415.50 229.20 417.50 231.10 Q419.50 233.00 421.00 234.75 Q422.50 236.50 424.50 234.75 Q426.50 233.00 429.55 230.70 Q432.60 228.40 435.80 227.35 Q439.00 226.30 442.25 225.75 Q445.50 225.20 451.75 225.50 Q458.00 225.80 465.30 226.80 Q472.60 227.80 473.90 232.30 Q475.20 236.80 476.50 241.30 Q477.80 245.80 479.10 251.00 Q480.40 256.20 483.00 261.35 Q485.60 266.50 488.05 270.85 Q490.50 275.20 488.65 277.95 Q486.80 280.70 484.25 285.25 Q481.70 289.80 479.10 294.15 Q476.50 298.50 473.25 302.75 Q470.00 307.00 466.65 311.70 Q463.30 316.40 457.15 320.10 Q451.00 323.80 443.75 326.85 Q436.50 329.90 426.70 330.60 Q416.90 331.30 407.10 330.10 Q397.30 328.90 390.00 327.05 Q382.70 325.20 380.15 322.60 Q377.60 320.00 377.10 315.00 Q376.60 310.00 377.20 302.20 Q377.80 294.40 377.50 288.20 Q377.20 282.00 376.35 277.00 Q375.50 272.00 374.75 269.00 Q374.00 266.00 373.80 263.00 Z" fill="none" stroke="#fff" stroke-width="3" opacity="0.35" filter="url(#blurD2)"/>
<rect x="360" y="215" width="140" height="125" fill="#000" filter="url(#umapNoise)" opacity="0.35"/>
</g>
<circle cx="387.5" cy="259.8" r="0.9" fill="#333" opacity="0.7"/>
<circle cx="405.5" cy="240.2" r="0.9" fill="#333" opacity="0.7"/>
<circle cx="421.3" cy="257.0" r="0.9" fill="#333" opacity="0.7"/>
<circle cx="433.8" cy="236.5" r="0.9" fill="#333" opacity="0.7"/>
<circle cx="453.7" cy="246.2" r="0.9" fill="#333" opacity="0.7"/>
<circle cx="446" cy="262.5" r="0.9" fill="#333" opacity="0.7"/>
<circle cx="487.5" cy="275.6" r="0.9" fill="#333" opacity="0.7"/>
<circle cx="416" cy="304.4" r="0.9" fill="#333" opacity="0.7"/>
<circle cx="415.5" cy="270.0" r="0.9" fill="#333" opacity="0.7"/>
<rect x="367.2" y="219.7" width="128.8" height="118.1" fill="none" stroke="#333" stroke-width="1"/>
<line x1="364.6" y1="246.20" x2="367.2" y2="246.20" stroke="#333" stroke-width="0.8"/>
<text x="362.3" y="248.39999999999998" font-size="6.2" fill="#222" text-anchor="end" font-weight="normal" font-style="normal" >4</text>
<line x1="364.6" y1="278.00" x2="367.2" y2="278.00" stroke="#333" stroke-width="0.8"/>
<text x="362.3" y="280.2" font-size="6.2" fill="#222" text-anchor="end" font-weight="normal" font-style="normal" >0</text>
<line x1="364.6" y1="309.80" x2="367.2" y2="309.80" stroke="#333" stroke-width="0.8"/>
<text x="362.3" y="312.0" font-size="6.2" fill="#222" text-anchor="end" font-weight="normal" font-style="normal" >−4</text>
<line x1="388.40" y1="337.8" x2="388.40" y2="340.4" stroke="#333" stroke-width="0.8"/>
<text x="388.4" y="349.2" font-size="6.2" fill="#222" text-anchor="middle" font-weight="normal" font-style="normal" >−5</text>
<line x1="425.00" y1="337.8" x2="425.00" y2="340.4" stroke="#333" stroke-width="0.8"/>
<text x="425.0" y="349.2" font-size="6.2" fill="#222" text-anchor="middle" font-weight="normal" font-style="normal" >0</text>
<line x1="461.60" y1="337.8" x2="461.60" y2="340.4" stroke="#333" stroke-width="0.8"/>
<text x="461.6" y="349.2" font-size="6.2" fill="#222" text-anchor="middle" font-weight="normal" font-style="normal" >5</text>
<text transform="translate(431.5,360.0) scale(0.78,1)" font-size="7.4" font-weight="bold" fill="#222" text-anchor="middle">UMAP1</text>
<text transform="translate(350.3,278.0) rotate(-90) scale(0.78,1)" font-size="7.4" font-weight="bold" fill="#222" text-anchor="middle">UMAP2</text>
<circle cx="365.7" cy="370.7" r="2.5" fill="#3d6db0" stroke="#555" stroke-opacity="0.35" stroke-width="0.5"/>
<text x="372.3" y="373.0" font-size="6.4" fill="#222" text-anchor="start" font-weight="normal" font-style="normal" >0: B cell</text>
<circle cx="365.7" cy="381.4" r="2.5" fill="#e0702d" stroke="#555" stroke-opacity="0.35" stroke-width="0.5"/>
<text x="372.3" y="383.7" font-size="6.4" fill="#222" text-anchor="start" font-weight="normal" font-style="normal" >1: CD4<tspan dy="-2.4" font-size="5">+</tspan><tspan dy="2.4"> Tex</tspan></text>
<circle cx="365.7" cy="392.0" r="2.5" fill="#9b8a87" stroke="#555" stroke-opacity="0.35" stroke-width="0.5"/>
<text x="372.3" y="394.3" font-size="6.4" fill="#222" text-anchor="start" font-weight="normal" font-style="normal" >2: CD8<tspan dy="-2.4" font-size="5">+</tspan><tspan dy="2.4"> T</tspan></text>
<circle cx="365.7" cy="402.5" r="2.5" fill="#4c9a48" stroke="#555" stroke-opacity="0.35" stroke-width="0.5"/>
<text x="372.3" y="404.8" font-size="6.4" fill="#222" text-anchor="start" font-weight="normal" font-style="normal" >3: CD8<tspan dy="-2.4" font-size="5">+</tspan><tspan dy="2.4"> Tex</tspan></text>
<circle cx="423.7" cy="370.7" r="2.5" fill="#e0a840" stroke="#555" stroke-opacity="0.35" stroke-width="0.5"/>
<text x="430.3" y="373.0" font-size="6.4" fill="#222" text-anchor="start" font-weight="normal" font-style="normal" >4: CD163<tspan dy="-2.4" font-size="5">+</tspan><tspan dy="2.4"> Macrophage</tspan></text>
<circle cx="423.7" cy="381.4" r="2.5" fill="#d57ab5" stroke="#555" stroke-opacity="0.35" stroke-width="0.5"/>
<text x="430.3" y="383.7" font-size="6.4" fill="#222" text-anchor="start" font-weight="normal" font-style="normal" >5: CD163<tspan dy="-2.4" font-size="5">−</tspan><tspan dy="2.4"> Macrophage</tspan></text>
<circle cx="423.7" cy="392.0" r="2.5" fill="#a8665a" stroke="#555" stroke-opacity="0.35" stroke-width="0.5"/>
<text x="430.3" y="394.3" font-size="6.4" fill="#222" text-anchor="start" font-weight="normal" font-style="normal" >6: Fibroblast</text>
<circle cx="423.7" cy="402.5" r="2.5" fill="#c0a9b5" stroke="#555" stroke-opacity="0.35" stroke-width="0.5"/>
<text x="430.3" y="404.8" font-size="6.4" fill="#222" text-anchor="start" font-weight="normal" font-style="normal" >7: Lineage</text>
<text x="330.4" y="433.8" font-size="11.4" fill="#0a0a0a" text-anchor="start" font-weight="bold" font-style="normal" >E</text>
<g clip-path="url(#clipE0)">
<rect x="355.8" y="436.3" width="64.80000000000001" height="57.39999999999998" fill="#dce6f0"/>
<ellipse cx="372.60" cy="445.08" rx="13.68" ry="6.84" fill="#eab8b4" opacity="1" filter="url(#bE)"/>
<ellipse cx="399.60" cy="445.08" rx="17.28" ry="9.12" fill="#cc6a60" opacity="1" filter="url(#bE)"/>
<ellipse cx="401.40" cy="442.04" rx="12.96" ry="4.56" fill="#a02424" opacity="1" filter="url(#bE2)"/>
<ellipse cx="381.60" cy="454.96" rx="18.00" ry="6.08" fill="#b4cce4" opacity="0.9" filter="url(#bE)"/>
<ellipse cx="403.20" cy="476.24" rx="13.68" ry="12.16" fill="#5688bf" opacity="1" filter="url(#bE)"/>
<ellipse cx="396.00" cy="485.74" rx="12.60" ry="6.84" fill="#4e80bb" opacity="1" filter="url(#bE)"/>
<ellipse cx="414.72" cy="465.60" rx="5.76" ry="6.08" fill="#3a6aa8" opacity="1" filter="url(#bE2)"/>
<ellipse cx="403.20" cy="461.80" rx="10.80" ry="4.56" fill="#a8c4e0" opacity="0.8" filter="url(#bE)"/>
<ellipse cx="370.80" cy="477.00" rx="10.80" ry="12.16" fill="#eed0cc" opacity="1" filter="url(#bE)"/>
<ellipse cx="375.84" cy="478.52" rx="4.32" ry="6.08" fill="#dca098" opacity="0.9" filter="url(#bE2)"/>
<ellipse cx="362.88" cy="459.90" rx="2.88" ry="8.36" fill="#e4b8b4" opacity="0.9" filter="url(#bE2)"/>
<rect x="355.8" y="436.3" width="64.80000000000001" height="57.39999999999998" fill="#000" filter="url(#umapNoiseE)"/>
</g>
<rect x="355.8" y="436.3" width="64.8" height="57.4" fill="none" stroke="#333" stroke-width="1"/>
<line x1="353.40000000000003" y1="449.94" x2="355.8" y2="449.94" stroke="#333" stroke-width="0.7"/>
<text x="351.6" y="452.04400000000004" font-size="6.0" fill="#222" text-anchor="end" font-weight="normal" font-style="normal" >4</text>
<line x1="353.40000000000003" y1="465.60" x2="355.8" y2="465.60" stroke="#333" stroke-width="0.7"/>
<text x="351.6" y="467.70000000000005" font-size="6.0" fill="#222" text-anchor="end" font-weight="normal" font-style="normal" >0</text>
<line x1="353.40000000000003" y1="481.26" x2="355.8" y2="481.26" stroke="#333" stroke-width="0.7"/>
<text x="351.6" y="483.35600000000005" font-size="6.0" fill="#222" text-anchor="end" font-weight="normal" font-style="normal" >−4</text>
<line x1="367.20" y1="493.7" x2="367.20" y2="496.09999999999997" stroke="#333" stroke-width="0.7"/>
<text x="367.2" y="503.7" font-size="6.0" fill="#222" text-anchor="middle" font-weight="normal" font-style="normal" >−5</text>
<line x1="385.20" y1="493.7" x2="385.20" y2="496.09999999999997" stroke="#333" stroke-width="0.7"/>
<text x="385.2" y="503.7" font-size="6.0" fill="#222" text-anchor="middle" font-weight="normal" font-style="normal" >0</text>
<line x1="403.20" y1="493.7" x2="403.20" y2="496.09999999999997" stroke="#333" stroke-width="0.7"/>
<text x="403.2" y="503.7" font-size="6.0" fill="#222" text-anchor="middle" font-weight="normal" font-style="normal" >5</text>
<text x="388.70000000000005" y="431.90000000000003" font-size="7.5" fill="#222" text-anchor="middle" font-weight="normal" font-style="normal" >α-SMA</text>
<g clip-path="url(#clipE1)">
<rect x="439.2" y="436.3" width="65.40000000000003" height="57.39999999999998" fill="#3f70ae"/>
<ellipse cx="473.90" cy="448.50" rx="10.80" ry="7.60" fill="#a0c0de" opacity="1" filter="url(#bE)"/>
<ellipse cx="461.30" cy="450.40" rx="8.64" ry="11.40" fill="#ece0e0" opacity="1" filter="url(#bE)"/>
<ellipse cx="451.94" cy="451.92" rx="9.36" ry="10.64" fill="#d27e70" opacity="1" filter="url(#bE)"/>
<ellipse cx="447.62" cy="451.92" rx="5.04" ry="9.12" fill="#b03a2e" opacity="1" filter="url(#bE2)"/>
<ellipse cx="453.38" cy="444.32" rx="6.48" ry="3.80" fill="#b84a3a" opacity="1" filter="url(#bE2)"/>
<ellipse cx="457.70" cy="462.56" rx="10.80" ry="6.08" fill="#c8d8e8" opacity="0.85" filter="url(#bE)"/>
<ellipse cx="488.30" cy="465.60" rx="12.60" ry="19.00" fill="#3464a2" opacity="0.8" filter="url(#bE)"/>
<ellipse cx="456.98" cy="483.08" rx="2.52" ry="3.42" fill="#f4f6fa" opacity="1" filter="url(#bE2)"/>
<rect x="439.2" y="436.3" width="65.40000000000003" height="57.39999999999998" fill="#000" filter="url(#umapNoiseE)"/>
</g>
<rect x="439.2" y="436.3" width="65.4" height="57.4" fill="none" stroke="#333" stroke-width="1"/>
<line x1="436.8" y1="449.94" x2="439.2" y2="449.94" stroke="#333" stroke-width="0.7"/>
<text x="435.0" y="452.04400000000004" font-size="6.0" fill="#222" text-anchor="end" font-weight="normal" font-style="normal" >4</text>
<line x1="436.8" y1="465.60" x2="439.2" y2="465.60" stroke="#333" stroke-width="0.7"/>
<text x="435.0" y="467.70000000000005" font-size="6.0" fill="#222" text-anchor="end" font-weight="normal" font-style="normal" >0</text>
<line x1="436.8" y1="481.26" x2="439.2" y2="481.26" stroke="#333" stroke-width="0.7"/>
<text x="435.0" y="483.35600000000005" font-size="6.0" fill="#222" text-anchor="end" font-weight="normal" font-style="normal" >−4</text>
<line x1="450.50" y1="493.7" x2="450.50" y2="496.09999999999997" stroke="#333" stroke-width="0.7"/>
<text x="450.5" y="503.7" font-size="6.0" fill="#222" text-anchor="middle" font-weight="normal" font-style="normal" >−5</text>
<line x1="468.50" y1="493.7" x2="468.50" y2="496.09999999999997" stroke="#333" stroke-width="0.7"/>
<text x="468.5" y="503.7" font-size="6.0" fill="#222" text-anchor="middle" font-weight="normal" font-style="normal" >0</text>
<line x1="486.50" y1="493.7" x2="486.50" y2="496.09999999999997" stroke="#333" stroke-width="0.7"/>
<text x="486.5" y="503.7" font-size="6.0" fill="#222" text-anchor="middle" font-weight="normal" font-style="normal" >5</text>
<text x="472.4" y="431.90000000000003" font-size="7.5" fill="#222" text-anchor="middle" font-weight="normal" font-style="normal" >CD3</text>
<g clip-path="url(#clipE2)">
<rect x="355.8" y="523.1" width="65.39999999999998" height="57.10000000000002" fill="#d4e0ec"/>
<ellipse cx="401.40" cy="538.78" rx="16.20" ry="13.68" fill="#335f9c" opacity="1" filter="url(#bE)"/>
<ellipse cx="410.40" cy="541.82" rx="7.92" ry="13.30" fill="#264e8c" opacity="1" filter="url(#bE2)"/>
<ellipse cx="372.60" cy="528.14" rx="14.40" ry="3.80" fill="#5a84b8" opacity="1" filter="url(#bE)"/>
<ellipse cx="372.24" cy="538.02" rx="9.36" ry="6.08" fill="#c8c4d4" opacity="1" filter="url(#bE)"/>
<ellipse cx="373.68" cy="556.26" rx="12.24" ry="13.68" fill="#e6beb2" opacity="1" filter="url(#bE)"/>
<ellipse cx="379.44" cy="563.10" rx="6.48" ry="6.84" fill="#dc9c8a" opacity="1" filter="url(#bE2)"/>
<ellipse cx="399.60" cy="559.30" rx="9.00" ry="6.84" fill="#e0e8f2" opacity="0.9" filter="url(#bE)"/>
<ellipse cx="381.60" cy="576.40" rx="18.00" ry="3.80" fill="#a0bedc" opacity="0.9" filter="url(#bE)"/>
<ellipse cx="387.00" cy="546.00" rx="9.00" ry="5.70" fill="#a8c4e0" opacity="0.9" filter="url(#bE)"/>
<rect x="355.8" y="523.1" width="65.39999999999998" height="57.10000000000002" fill="#000" filter="url(#umapNoiseE)"/>
</g>
<rect x="355.8" y="523.1" width="65.4" height="57.1" fill="none" stroke="#333" stroke-width="1"/>
<line x1="353.40000000000003" y1="536.04" x2="355.8" y2="536.04" stroke="#333" stroke-width="0.7"/>
<text x="351.6" y="538.1440000000001" font-size="6.0" fill="#222" text-anchor="end" font-weight="normal" font-style="normal" >4</text>
<line x1="353.40000000000003" y1="551.70" x2="355.8" y2="551.70" stroke="#333" stroke-width="0.7"/>
<text x="351.6" y="553.8000000000001" font-size="6.0" fill="#222" text-anchor="end" font-weight="normal" font-style="normal" >0</text>
<line x1="353.40000000000003" y1="567.36" x2="355.8" y2="567.36" stroke="#333" stroke-width="0.7"/>
<text x="351.6" y="569.456" font-size="6.0" fill="#222" text-anchor="end" font-weight="normal" font-style="normal" >−4</text>
<line x1="367.20" y1="580.2" x2="367.20" y2="582.6" stroke="#333" stroke-width="0.7"/>
<text x="367.2" y="590.2" font-size="6.0" fill="#222" text-anchor="middle" font-weight="normal" font-style="normal" >−5</text>
<line x1="385.20" y1="580.2" x2="385.20" y2="582.6" stroke="#333" stroke-width="0.7"/>
<text x="385.2" y="590.2" font-size="6.0" fill="#222" text-anchor="middle" font-weight="normal" font-style="normal" >0</text>
<line x1="403.20" y1="580.2" x2="403.20" y2="582.6" stroke="#333" stroke-width="0.7"/>
<text x="403.2" y="590.2" font-size="6.0" fill="#222" text-anchor="middle" font-weight="normal" font-style="normal" >5</text>
<text x="389.0" y="518.7" font-size="7.5" fill="#222" text-anchor="middle" font-weight="normal" font-style="normal" >CD20</text>
<g clip-path="url(#clipE3)">
<rect x="439.2" y="523.1" width="65.40000000000003" height="57.10000000000002" fill="#eadfdc"/>
<ellipse cx="449.78" cy="538.40" rx="9.36" ry="11.40" fill="#b4c8de" opacity="1" filter="url(#bE)"/>
<ellipse cx="463.10" cy="530.42" rx="10.08" ry="4.56" fill="#c4d4e4" opacity="1" filter="url(#bE)"/>
<ellipse cx="468.50" cy="547.14" rx="16.56" ry="9.12" fill="#da8a7a" opacity="1" filter="url(#bE)"/>
<ellipse cx="467.78" cy="546.38" rx="10.08" ry="5.32" fill="#b84232" opacity="1" filter="url(#bE2)"/>
<ellipse cx="473.90" cy="533.46" rx="3.60" ry="6.08" fill="#d88878" opacity="0.9" filter="url(#bE2)"/>
<ellipse cx="495.86" cy="544.10" rx="5.04" ry="15.96" fill="#3a6aa8" opacity="1" filter="url(#bE2)"/>
<ellipse cx="472.10" cy="576.02" rx="23.40" ry="4.94" fill="#5a88bc" opacity="1" filter="url(#bE)"/>
<ellipse cx="448.70" cy="565.00" rx="5.40" ry="11.40" fill="#c0d0e2" opacity="0.8" filter="url(#bE)"/>
<ellipse cx="450.50" cy="566.14" rx="3.60" ry="3.80" fill="#e0a8a0" opacity="0.8" filter="url(#bE2)"/>
<ellipse cx="486.50" cy="565.00" rx="9.00" ry="9.50" fill="#c8d6e8" opacity="0.8" filter="url(#bE)"/>
<rect x="439.2" y="523.1" width="65.40000000000003" height="57.10000000000002" fill="#000" filter="url(#umapNoiseE)"/>
</g>
<rect x="439.2" y="523.1" width="65.4" height="57.1" fill="none" stroke="#333" stroke-width="1"/>
<line x1="436.8" y1="536.04" x2="439.2" y2="536.04" stroke="#333" stroke-width="0.7"/>
<text x="435.0" y="538.1440000000001" font-size="6.0" fill="#222" text-anchor="end" font-weight="normal" font-style="normal" >4</text>
<line x1="436.8" y1="551.70" x2="439.2" y2="551.70" stroke="#333" stroke-width="0.7"/>
<text x="435.0" y="553.8000000000001" font-size="6.0" fill="#222" text-anchor="end" font-weight="normal" font-style="normal" >0</text>
<line x1="436.8" y1="567.36" x2="439.2" y2="567.36" stroke="#333" stroke-width="0.7"/>
<text x="435.0" y="569.456" font-size="6.0" fill="#222" text-anchor="end" font-weight="normal" font-style="normal" >−4</text>
<line x1="450.50" y1="580.2" x2="450.50" y2="582.6" stroke="#333" stroke-width="0.7"/>
<text x="450.5" y="590.2" font-size="6.0" fill="#222" text-anchor="middle" font-weight="normal" font-style="normal" >−5</text>
<line x1="468.50" y1="580.2" x2="468.50" y2="582.6" stroke="#333" stroke-width="0.7"/>
<text x="468.5" y="590.2" font-size="6.0" fill="#222" text-anchor="middle" font-weight="normal" font-style="normal" >0</text>
<line x1="486.50" y1="580.2" x2="486.50" y2="582.6" stroke="#333" stroke-width="0.7"/>
<text x="486.5" y="590.2" font-size="6.0" fill="#222" text-anchor="middle" font-weight="normal" font-style="normal" >5</text>
<text x="472.4" y="518.7" font-size="7.5" fill="#222" text-anchor="middle" font-weight="normal" font-style="normal" >CD68</text>
<text transform="translate(336.6,506.5) rotate(-90) scale(0.78,1)" font-size="7.2" font-weight="bold" fill="#222" text-anchor="middle">UMAP2</text>
<text transform="translate(431.5,603.8) scale(0.78,1)" font-size="7.2" font-weight="bold" fill="#222" text-anchor="middle">UMAP1</text>
<rect x="0.5" y="0.5" width="519" height="618" fill="none" stroke="#5a5a5a" stroke-width="1"/>
</svg>
</body></html>
